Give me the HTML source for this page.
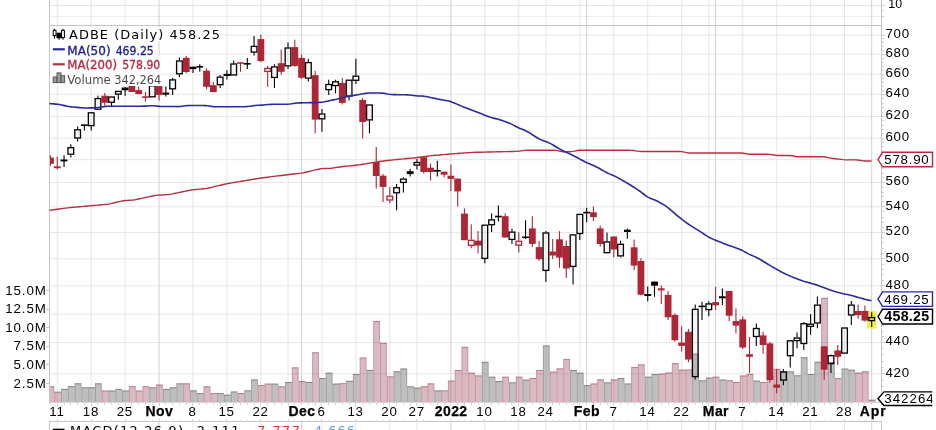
<!DOCTYPE html>
<html><head><meta charset="utf-8"><title>ADBE chart</title>
<style>html,body{margin:0;padding:0;background:#fff}svg{display:block;will-change:transform;opacity:0.999}</style></head>
<body><svg width="936" height="430" viewBox="0 0 936 430" font-family="'Liberation Sans', Arial, sans-serif">
<rect width="936" height="430" fill="#fff"/>
<g>
<line x1="49.5" x2="881.5" y1="5.5" y2="5.5" stroke="#e4e4e4"/>
<line x1="49.5" x2="881.5" y1="16.5" y2="16.5" stroke="#efefef"/>
<line x1="49.5" x2="881.5" y1="373.8" y2="373.8" stroke="#e6e6e6"/>
<line x1="49.5" x2="881.5" y1="342.6" y2="342.6" stroke="#e6e6e6"/>
<line x1="49.5" x2="881.5" y1="314.2" y2="314.2" stroke="#e6e6e6"/>
<line x1="49.5" x2="881.5" y1="285.9" y2="285.9" stroke="#e6e6e6"/>
<line x1="49.5" x2="881.5" y1="258.8" y2="258.8" stroke="#e6e6e6"/>
<line x1="49.5" x2="881.5" y1="232.6" y2="232.6" stroke="#e6e6e6"/>
<line x1="49.5" x2="881.5" y1="206.8" y2="206.8" stroke="#e6e6e6"/>
<line x1="49.5" x2="881.5" y1="182.5" y2="182.5" stroke="#e6e6e6"/>
<line x1="49.5" x2="881.5" y1="159.7" y2="159.7" stroke="#e6e6e6"/>
<line x1="49.5" x2="881.5" y1="138.2" y2="138.2" stroke="#e6e6e6"/>
<line x1="49.5" x2="881.5" y1="116.5" y2="116.5" stroke="#e6e6e6"/>
<line x1="49.5" x2="881.5" y1="94.3" y2="94.3" stroke="#e6e6e6"/>
<line x1="49.5" x2="881.5" y1="74.2" y2="74.2" stroke="#e6e6e6"/>
<line x1="49.5" x2="881.5" y1="54.2" y2="54.2" stroke="#e6e6e6"/>
<line x1="49.5" x2="881.5" y1="35.2" y2="35.2" stroke="#e6e6e6"/>
<line x1="57.25" x2="57.25" y1="0" y2="402.5" stroke="#e6e6e6"/>
<line x1="57.25" x2="57.25" y1="422" y2="430" stroke="#e6e6e6"/>
<line x1="91.19" x2="91.19" y1="0" y2="402.5" stroke="#e6e6e6"/>
<line x1="91.19" x2="91.19" y1="422" y2="430" stroke="#e6e6e6"/>
<line x1="125.12" x2="125.12" y1="0" y2="402.5" stroke="#e6e6e6"/>
<line x1="125.12" x2="125.12" y1="422" y2="430" stroke="#e6e6e6"/>
<line x1="192.99" x2="192.99" y1="0" y2="402.5" stroke="#e6e6e6"/>
<line x1="192.99" x2="192.99" y1="422" y2="430" stroke="#e6e6e6"/>
<line x1="226.93" x2="226.93" y1="0" y2="402.5" stroke="#e6e6e6"/>
<line x1="226.93" x2="226.93" y1="422" y2="430" stroke="#e6e6e6"/>
<line x1="260.86" x2="260.86" y1="0" y2="402.5" stroke="#e6e6e6"/>
<line x1="260.86" x2="260.86" y1="422" y2="430" stroke="#e6e6e6"/>
<line x1="288.01" x2="288.01" y1="0" y2="402.5" stroke="#e6e6e6"/>
<line x1="288.01" x2="288.01" y1="422" y2="430" stroke="#e6e6e6"/>
<line x1="321.94" x2="321.94" y1="0" y2="402.5" stroke="#e6e6e6"/>
<line x1="321.94" x2="321.94" y1="422" y2="430" stroke="#e6e6e6"/>
<line x1="355.88" x2="355.88" y1="0" y2="402.5" stroke="#e6e6e6"/>
<line x1="355.88" x2="355.88" y1="422" y2="430" stroke="#e6e6e6"/>
<line x1="389.81" x2="389.81" y1="0" y2="402.5" stroke="#e6e6e6"/>
<line x1="389.81" x2="389.81" y1="422" y2="430" stroke="#e6e6e6"/>
<line x1="416.96" x2="416.96" y1="0" y2="402.5" stroke="#e6e6e6"/>
<line x1="416.96" x2="416.96" y1="422" y2="430" stroke="#e6e6e6"/>
<line x1="484.83" x2="484.83" y1="0" y2="402.5" stroke="#e6e6e6"/>
<line x1="484.83" x2="484.83" y1="422" y2="430" stroke="#e6e6e6"/>
<line x1="518.77" x2="518.77" y1="0" y2="402.5" stroke="#e6e6e6"/>
<line x1="518.77" x2="518.77" y1="422" y2="430" stroke="#e6e6e6"/>
<line x1="545.91" x2="545.91" y1="0" y2="402.5" stroke="#e6e6e6"/>
<line x1="545.91" x2="545.91" y1="422" y2="430" stroke="#e6e6e6"/>
<line x1="579.85" x2="579.85" y1="0" y2="402.5" stroke="#e6e6e6"/>
<line x1="579.85" x2="579.85" y1="422" y2="430" stroke="#e6e6e6"/>
<line x1="613.78" x2="613.78" y1="0" y2="402.5" stroke="#e6e6e6"/>
<line x1="613.78" x2="613.78" y1="422" y2="430" stroke="#e6e6e6"/>
<line x1="647.72" x2="647.72" y1="0" y2="402.5" stroke="#e6e6e6"/>
<line x1="647.72" x2="647.72" y1="422" y2="430" stroke="#e6e6e6"/>
<line x1="681.65" x2="681.65" y1="0" y2="402.5" stroke="#e6e6e6"/>
<line x1="681.65" x2="681.65" y1="422" y2="430" stroke="#e6e6e6"/>
<line x1="708.8" x2="708.8" y1="0" y2="402.5" stroke="#e6e6e6"/>
<line x1="708.8" x2="708.8" y1="422" y2="430" stroke="#e6e6e6"/>
<line x1="742.74" x2="742.74" y1="0" y2="402.5" stroke="#e6e6e6"/>
<line x1="742.74" x2="742.74" y1="422" y2="430" stroke="#e6e6e6"/>
<line x1="776.67" x2="776.67" y1="0" y2="402.5" stroke="#e6e6e6"/>
<line x1="776.67" x2="776.67" y1="422" y2="430" stroke="#e6e6e6"/>
<line x1="810.61" x2="810.61" y1="0" y2="402.5" stroke="#e6e6e6"/>
<line x1="810.61" x2="810.61" y1="422" y2="430" stroke="#e6e6e6"/>
<line x1="844.54" x2="844.54" y1="0" y2="402.5" stroke="#e6e6e6"/>
<line x1="844.54" x2="844.54" y1="422" y2="430" stroke="#e6e6e6"/>
<line x1="159.06" x2="159.06" y1="0" y2="402.5" stroke="#d2d2d2"/>
<line x1="159.06" x2="159.06" y1="422" y2="430" stroke="#d2d2d2"/>
<line x1="301.58" x2="301.58" y1="0" y2="402.5" stroke="#d2d2d2"/>
<line x1="301.58" x2="301.58" y1="422" y2="430" stroke="#d2d2d2"/>
<line x1="450.9" x2="450.9" y1="0" y2="402.5" stroke="#d2d2d2"/>
<line x1="450.9" x2="450.9" y1="422" y2="430" stroke="#d2d2d2"/>
<line x1="586.64" x2="586.64" y1="0" y2="402.5" stroke="#d2d2d2"/>
<line x1="586.64" x2="586.64" y1="422" y2="430" stroke="#d2d2d2"/>
<line x1="715.59" x2="715.59" y1="0" y2="402.5" stroke="#d2d2d2"/>
<line x1="715.59" x2="715.59" y1="422" y2="430" stroke="#d2d2d2"/>
<line x1="871.69" x2="871.69" y1="0" y2="402.5" stroke="#d2d2d2"/>
<line x1="871.69" x2="871.69" y1="422" y2="430" stroke="#d2d2d2"/>
</g>
<g>
<rect x="50.00" y="386.20" width="4.25" height="16.00" fill="rgba(128,25,55,0.30)"/>
<path d="M50.00 386.70H54.25" fill="none" stroke="rgba(140,30,50,0.42)" stroke-width="1"/>
<path d="M53.75 387.20V391.70" fill="none" stroke="rgba(140,30,50,0.22)" stroke-width="1"/>
<rect x="54.25" y="391.70" width="6.79" height="10.50" fill="rgba(128,25,55,0.30)"/>
<path d="M54.25 392.20H61.04" fill="none" stroke="rgba(140,30,50,0.42)" stroke-width="1"/>
<path d="M54.75 402.2V392.70" fill="none" stroke="rgba(140,30,50,0.22)" stroke-width="1"/>
<rect x="61.04" y="388.90" width="6.79" height="13.30" fill="rgba(128,128,128,0.5)"/>
<path d="M61.04 389.40H67.82" fill="none" stroke="rgba(50,50,50,0.40)" stroke-width="1"/>
<path d="M61.54 402.2V389.90" fill="none" stroke="rgba(60,60,60,0.22)" stroke-width="1"/>
<rect x="67.82" y="386.20" width="6.79" height="16.00" fill="rgba(128,128,128,0.5)"/>
<path d="M67.82 386.70H74.61" fill="none" stroke="rgba(50,50,50,0.40)" stroke-width="1"/>
<path d="M68.32 402.2V387.20" fill="none" stroke="rgba(60,60,60,0.22)" stroke-width="1"/>
<rect x="74.61" y="383.30" width="6.79" height="18.90" fill="rgba(128,128,128,0.5)"/>
<path d="M74.61 383.80H81.40" fill="none" stroke="rgba(50,50,50,0.40)" stroke-width="1"/>
<path d="M75.11 402.2V384.30" fill="none" stroke="rgba(60,60,60,0.22)" stroke-width="1"/>
<path d="M80.90 384.30V387.30" fill="none" stroke="rgba(60,60,60,0.22)" stroke-width="1"/>
<rect x="81.40" y="387.30" width="6.79" height="14.90" fill="rgba(128,128,128,0.5)"/>
<path d="M81.40 387.80H88.19" fill="none" stroke="rgba(50,50,50,0.40)" stroke-width="1"/>
<path d="M81.90 402.2V388.30" fill="none" stroke="rgba(60,60,60,0.22)" stroke-width="1"/>
<rect x="88.19" y="387.30" width="6.79" height="14.90" fill="rgba(128,128,128,0.5)"/>
<path d="M88.19 387.80H94.97" fill="none" stroke="rgba(50,50,50,0.40)" stroke-width="1"/>
<path d="M88.69 402.2V388.30" fill="none" stroke="rgba(60,60,60,0.22)" stroke-width="1"/>
<rect x="94.97" y="383.30" width="6.79" height="18.90" fill="rgba(128,128,128,0.5)"/>
<path d="M94.97 383.80H101.76" fill="none" stroke="rgba(50,50,50,0.40)" stroke-width="1"/>
<path d="M95.47 402.2V384.30" fill="none" stroke="rgba(60,60,60,0.22)" stroke-width="1"/>
<path d="M101.26 384.30V390.50" fill="none" stroke="rgba(60,60,60,0.22)" stroke-width="1"/>
<rect x="101.76" y="390.50" width="6.79" height="11.70" fill="rgba(128,25,55,0.30)"/>
<path d="M101.76 391.00H108.55" fill="none" stroke="rgba(140,30,50,0.42)" stroke-width="1"/>
<path d="M102.26 402.2V391.50" fill="none" stroke="rgba(140,30,50,0.22)" stroke-width="1"/>
<rect x="108.55" y="390.50" width="6.79" height="11.70" fill="rgba(128,128,128,0.5)"/>
<path d="M108.55 391.00H115.33" fill="none" stroke="rgba(50,50,50,0.40)" stroke-width="1"/>
<path d="M109.05 402.2V391.50" fill="none" stroke="rgba(60,60,60,0.22)" stroke-width="1"/>
<rect x="115.33" y="388.90" width="6.79" height="13.30" fill="rgba(128,128,128,0.5)"/>
<path d="M115.33 389.40H122.12" fill="none" stroke="rgba(50,50,50,0.40)" stroke-width="1"/>
<path d="M115.83 402.2V389.90" fill="none" stroke="rgba(60,60,60,0.22)" stroke-width="1"/>
<path d="M121.62 389.90V390.50" fill="none" stroke="rgba(60,60,60,0.22)" stroke-width="1"/>
<rect x="122.12" y="390.50" width="6.79" height="11.70" fill="rgba(128,128,128,0.5)"/>
<path d="M122.12 391.00H128.91" fill="none" stroke="rgba(50,50,50,0.40)" stroke-width="1"/>
<path d="M122.62 402.2V391.50" fill="none" stroke="rgba(60,60,60,0.22)" stroke-width="1"/>
<rect x="128.91" y="386.20" width="6.79" height="16.00" fill="rgba(128,25,55,0.30)"/>
<path d="M128.91 386.70H135.69" fill="none" stroke="rgba(140,30,50,0.42)" stroke-width="1"/>
<path d="M129.41 402.2V387.20" fill="none" stroke="rgba(140,30,50,0.22)" stroke-width="1"/>
<path d="M135.19 387.20V390.50" fill="none" stroke="rgba(140,30,50,0.22)" stroke-width="1"/>
<rect x="135.69" y="390.50" width="6.79" height="11.70" fill="rgba(128,25,55,0.30)"/>
<path d="M135.69 391.00H142.48" fill="none" stroke="rgba(140,30,50,0.42)" stroke-width="1"/>
<path d="M136.19 402.2V391.50" fill="none" stroke="rgba(140,30,50,0.22)" stroke-width="1"/>
<rect x="142.48" y="386.20" width="6.79" height="16.00" fill="rgba(128,25,55,0.30)"/>
<path d="M142.48 386.70H149.27" fill="none" stroke="rgba(140,30,50,0.42)" stroke-width="1"/>
<path d="M142.98 402.2V387.20" fill="none" stroke="rgba(140,30,50,0.22)" stroke-width="1"/>
<path d="M148.77 387.20V387.30" fill="none" stroke="rgba(140,30,50,0.22)" stroke-width="1"/>
<rect x="149.27" y="387.30" width="6.79" height="14.90" fill="rgba(128,128,128,0.5)"/>
<path d="M149.27 387.80H156.06" fill="none" stroke="rgba(50,50,50,0.40)" stroke-width="1"/>
<path d="M149.77 402.2V388.30" fill="none" stroke="rgba(60,60,60,0.22)" stroke-width="1"/>
<rect x="156.06" y="384.60" width="6.79" height="17.60" fill="rgba(128,25,55,0.30)"/>
<path d="M156.06 385.10H162.84" fill="none" stroke="rgba(140,30,50,0.42)" stroke-width="1"/>
<path d="M156.56 402.2V385.60" fill="none" stroke="rgba(140,30,50,0.22)" stroke-width="1"/>
<path d="M162.34 385.60V388.90" fill="none" stroke="rgba(140,30,50,0.22)" stroke-width="1"/>
<rect x="162.84" y="388.90" width="6.79" height="13.30" fill="rgba(128,128,128,0.5)"/>
<path d="M162.84 389.40H169.63" fill="none" stroke="rgba(50,50,50,0.40)" stroke-width="1"/>
<path d="M163.34 402.2V389.90" fill="none" stroke="rgba(60,60,60,0.22)" stroke-width="1"/>
<rect x="169.63" y="387.30" width="6.79" height="14.90" fill="rgba(128,128,128,0.5)"/>
<path d="M169.63 387.80H176.42" fill="none" stroke="rgba(50,50,50,0.40)" stroke-width="1"/>
<path d="M170.13 402.2V388.30" fill="none" stroke="rgba(60,60,60,0.22)" stroke-width="1"/>
<rect x="176.42" y="383.30" width="6.79" height="18.90" fill="rgba(128,128,128,0.5)"/>
<path d="M176.42 383.80H183.20" fill="none" stroke="rgba(50,50,50,0.40)" stroke-width="1"/>
<path d="M176.92 402.2V384.30" fill="none" stroke="rgba(60,60,60,0.22)" stroke-width="1"/>
<rect x="183.20" y="383.30" width="6.79" height="18.90" fill="rgba(128,25,55,0.30)"/>
<path d="M183.20 383.80H189.99" fill="none" stroke="rgba(140,30,50,0.42)" stroke-width="1"/>
<path d="M183.70 402.2V384.30" fill="none" stroke="rgba(140,30,50,0.22)" stroke-width="1"/>
<path d="M189.49 384.30V390.40" fill="none" stroke="rgba(140,30,50,0.22)" stroke-width="1"/>
<rect x="189.99" y="390.40" width="6.79" height="11.80" fill="rgba(128,128,128,0.5)"/>
<path d="M189.99 390.90H196.78" fill="none" stroke="rgba(50,50,50,0.40)" stroke-width="1"/>
<path d="M190.49 402.2V391.40" fill="none" stroke="rgba(60,60,60,0.22)" stroke-width="1"/>
<path d="M196.28 391.40V393.10" fill="none" stroke="rgba(60,60,60,0.22)" stroke-width="1"/>
<rect x="196.78" y="393.10" width="6.79" height="9.10" fill="rgba(128,128,128,0.5)"/>
<path d="M196.78 393.60H203.56" fill="none" stroke="rgba(50,50,50,0.40)" stroke-width="1"/>
<path d="M197.28 402.2V394.10" fill="none" stroke="rgba(60,60,60,0.22)" stroke-width="1"/>
<rect x="203.56" y="386.30" width="6.79" height="15.90" fill="rgba(128,25,55,0.30)"/>
<path d="M203.56 386.80H210.35" fill="none" stroke="rgba(140,30,50,0.42)" stroke-width="1"/>
<path d="M204.06 402.2V387.30" fill="none" stroke="rgba(140,30,50,0.22)" stroke-width="1"/>
<path d="M209.85 387.30V393.10" fill="none" stroke="rgba(140,30,50,0.22)" stroke-width="1"/>
<rect x="210.35" y="393.10" width="6.79" height="9.10" fill="rgba(128,25,55,0.30)"/>
<path d="M210.35 393.60H217.14" fill="none" stroke="rgba(140,30,50,0.42)" stroke-width="1"/>
<path d="M210.85 402.2V394.10" fill="none" stroke="rgba(140,30,50,0.22)" stroke-width="1"/>
<rect x="217.14" y="393.10" width="6.79" height="9.10" fill="rgba(128,128,128,0.5)"/>
<path d="M217.14 393.60H223.93" fill="none" stroke="rgba(50,50,50,0.40)" stroke-width="1"/>
<path d="M217.64 402.2V394.10" fill="none" stroke="rgba(60,60,60,0.22)" stroke-width="1"/>
<path d="M223.43 394.10V394.70" fill="none" stroke="rgba(60,60,60,0.22)" stroke-width="1"/>
<rect x="223.93" y="394.70" width="6.79" height="7.50" fill="rgba(128,128,128,0.5)"/>
<path d="M223.93 395.20H230.71" fill="none" stroke="rgba(50,50,50,0.40)" stroke-width="1"/>
<path d="M224.43 402.2V395.70" fill="none" stroke="rgba(60,60,60,0.22)" stroke-width="1"/>
<rect x="230.71" y="391.50" width="6.79" height="10.70" fill="rgba(128,128,128,0.5)"/>
<path d="M230.71 392.00H237.50" fill="none" stroke="rgba(50,50,50,0.40)" stroke-width="1"/>
<path d="M231.21 402.2V392.50" fill="none" stroke="rgba(60,60,60,0.22)" stroke-width="1"/>
<path d="M237.00 392.50V393.10" fill="none" stroke="rgba(60,60,60,0.22)" stroke-width="1"/>
<rect x="237.50" y="393.10" width="6.79" height="9.10" fill="rgba(128,25,55,0.30)"/>
<path d="M237.50 393.60H244.29" fill="none" stroke="rgba(140,30,50,0.42)" stroke-width="1"/>
<path d="M238.00 402.2V394.10" fill="none" stroke="rgba(140,30,50,0.22)" stroke-width="1"/>
<rect x="244.29" y="390.40" width="6.79" height="11.80" fill="rgba(128,128,128,0.5)"/>
<path d="M244.29 390.90H251.07" fill="none" stroke="rgba(50,50,50,0.40)" stroke-width="1"/>
<path d="M244.79 402.2V391.40" fill="none" stroke="rgba(60,60,60,0.22)" stroke-width="1"/>
<rect x="251.07" y="379.40" width="6.79" height="22.80" fill="rgba(128,128,128,0.5)"/>
<path d="M251.07 379.90H257.86" fill="none" stroke="rgba(50,50,50,0.40)" stroke-width="1"/>
<path d="M251.57 402.2V380.40" fill="none" stroke="rgba(60,60,60,0.22)" stroke-width="1"/>
<path d="M257.36 380.40V385.10" fill="none" stroke="rgba(60,60,60,0.22)" stroke-width="1"/>
<rect x="257.86" y="385.10" width="6.79" height="17.10" fill="rgba(128,25,55,0.30)"/>
<path d="M257.86 385.60H264.65" fill="none" stroke="rgba(140,30,50,0.42)" stroke-width="1"/>
<path d="M258.36 402.2V386.10" fill="none" stroke="rgba(140,30,50,0.22)" stroke-width="1"/>
<rect x="264.65" y="383.60" width="6.79" height="18.60" fill="rgba(128,25,55,0.30)"/>
<path d="M264.65 384.10H271.43" fill="none" stroke="rgba(140,30,50,0.42)" stroke-width="1"/>
<path d="M265.15 402.2V384.60" fill="none" stroke="rgba(140,30,50,0.22)" stroke-width="1"/>
<rect x="271.43" y="383.60" width="6.79" height="18.60" fill="rgba(128,128,128,0.5)"/>
<path d="M271.43 384.10H278.22" fill="none" stroke="rgba(50,50,50,0.40)" stroke-width="1"/>
<path d="M271.93 402.2V384.60" fill="none" stroke="rgba(60,60,60,0.22)" stroke-width="1"/>
<path d="M277.72 384.60V386.30" fill="none" stroke="rgba(60,60,60,0.22)" stroke-width="1"/>
<rect x="278.22" y="386.30" width="6.79" height="15.90" fill="rgba(128,25,55,0.30)"/>
<path d="M278.22 386.80H285.01" fill="none" stroke="rgba(140,30,50,0.42)" stroke-width="1"/>
<path d="M278.72 402.2V387.30" fill="none" stroke="rgba(140,30,50,0.22)" stroke-width="1"/>
<rect x="285.01" y="382.00" width="6.79" height="20.20" fill="rgba(128,128,128,0.5)"/>
<path d="M285.01 382.50H291.80" fill="none" stroke="rgba(50,50,50,0.40)" stroke-width="1"/>
<path d="M285.51 402.2V383.00" fill="none" stroke="rgba(60,60,60,0.22)" stroke-width="1"/>
<rect x="291.79" y="367.40" width="6.79" height="34.80" fill="rgba(128,25,55,0.30)"/>
<path d="M291.79 367.90H298.58" fill="none" stroke="rgba(140,30,50,0.42)" stroke-width="1"/>
<path d="M292.29 402.2V368.40" fill="none" stroke="rgba(140,30,50,0.22)" stroke-width="1"/>
<path d="M298.08 368.40V381.00" fill="none" stroke="rgba(140,30,50,0.22)" stroke-width="1"/>
<rect x="298.58" y="381.00" width="6.79" height="21.20" fill="rgba(128,25,55,0.30)"/>
<path d="M298.58 381.50H305.37" fill="none" stroke="rgba(140,30,50,0.42)" stroke-width="1"/>
<path d="M299.08 402.2V382.00" fill="none" stroke="rgba(140,30,50,0.22)" stroke-width="1"/>
<rect x="305.37" y="382.00" width="6.79" height="20.20" fill="rgba(128,128,128,0.5)"/>
<path d="M305.37 382.50H312.16" fill="none" stroke="rgba(50,50,50,0.40)" stroke-width="1"/>
<path d="M305.87 402.2V383.00" fill="none" stroke="rgba(60,60,60,0.22)" stroke-width="1"/>
<rect x="312.16" y="352.30" width="6.79" height="49.90" fill="rgba(128,25,55,0.30)"/>
<path d="M312.16 352.80H318.94" fill="none" stroke="rgba(140,30,50,0.42)" stroke-width="1"/>
<path d="M312.66 402.2V353.30" fill="none" stroke="rgba(140,30,50,0.22)" stroke-width="1"/>
<path d="M318.44 353.30V378.00" fill="none" stroke="rgba(140,30,50,0.22)" stroke-width="1"/>
<rect x="318.94" y="378.00" width="6.79" height="24.20" fill="rgba(128,128,128,0.5)"/>
<path d="M318.94 378.50H325.73" fill="none" stroke="rgba(50,50,50,0.40)" stroke-width="1"/>
<path d="M319.44 402.2V379.00" fill="none" stroke="rgba(60,60,60,0.22)" stroke-width="1"/>
<rect x="325.73" y="372.70" width="6.79" height="29.50" fill="rgba(128,128,128,0.5)"/>
<path d="M325.73 373.20H332.52" fill="none" stroke="rgba(50,50,50,0.40)" stroke-width="1"/>
<path d="M326.23 402.2V373.70" fill="none" stroke="rgba(60,60,60,0.22)" stroke-width="1"/>
<path d="M332.02 373.70V383.60" fill="none" stroke="rgba(60,60,60,0.22)" stroke-width="1"/>
<rect x="332.52" y="383.60" width="6.79" height="18.60" fill="rgba(128,128,128,0.5)"/>
<path d="M332.52 384.10H339.30" fill="none" stroke="rgba(50,50,50,0.40)" stroke-width="1"/>
<path d="M333.02 402.2V384.60" fill="none" stroke="rgba(60,60,60,0.22)" stroke-width="1"/>
<rect x="339.30" y="383.20" width="6.79" height="19.00" fill="rgba(128,25,55,0.30)"/>
<path d="M339.30 383.70H346.09" fill="none" stroke="rgba(140,30,50,0.42)" stroke-width="1"/>
<path d="M339.80 402.2V384.20" fill="none" stroke="rgba(140,30,50,0.22)" stroke-width="1"/>
<rect x="346.09" y="380.80" width="6.79" height="21.40" fill="rgba(128,128,128,0.5)"/>
<path d="M346.09 381.30H352.88" fill="none" stroke="rgba(50,50,50,0.40)" stroke-width="1"/>
<path d="M346.59 402.2V381.80" fill="none" stroke="rgba(60,60,60,0.22)" stroke-width="1"/>
<rect x="352.88" y="374.00" width="6.79" height="28.20" fill="rgba(128,128,128,0.5)"/>
<path d="M352.88 374.50H359.66" fill="none" stroke="rgba(50,50,50,0.40)" stroke-width="1"/>
<path d="M353.38 402.2V375.00" fill="none" stroke="rgba(60,60,60,0.22)" stroke-width="1"/>
<rect x="359.67" y="357.50" width="6.79" height="44.70" fill="rgba(128,25,55,0.30)"/>
<path d="M359.67 358.00H366.45" fill="none" stroke="rgba(140,30,50,0.42)" stroke-width="1"/>
<path d="M360.17 402.2V358.50" fill="none" stroke="rgba(140,30,50,0.22)" stroke-width="1"/>
<path d="M365.95 358.50V369.90" fill="none" stroke="rgba(140,30,50,0.22)" stroke-width="1"/>
<rect x="366.45" y="369.90" width="6.79" height="32.30" fill="rgba(128,128,128,0.5)"/>
<path d="M366.45 370.40H373.24" fill="none" stroke="rgba(50,50,50,0.40)" stroke-width="1"/>
<path d="M366.95 402.2V370.90" fill="none" stroke="rgba(60,60,60,0.22)" stroke-width="1"/>
<rect x="373.24" y="321.10" width="6.79" height="81.10" fill="rgba(128,25,55,0.30)"/>
<path d="M373.24 321.60H380.03" fill="none" stroke="rgba(140,30,50,0.42)" stroke-width="1"/>
<path d="M373.74 402.2V322.10" fill="none" stroke="rgba(140,30,50,0.22)" stroke-width="1"/>
<path d="M379.53 322.10V342.80" fill="none" stroke="rgba(140,30,50,0.22)" stroke-width="1"/>
<rect x="380.03" y="342.80" width="6.79" height="59.40" fill="rgba(128,25,55,0.30)"/>
<path d="M380.03 343.30H386.81" fill="none" stroke="rgba(140,30,50,0.42)" stroke-width="1"/>
<path d="M380.53 402.2V343.80" fill="none" stroke="rgba(140,30,50,0.22)" stroke-width="1"/>
<path d="M386.31 343.80V376.40" fill="none" stroke="rgba(140,30,50,0.22)" stroke-width="1"/>
<rect x="386.81" y="376.40" width="6.79" height="25.80" fill="rgba(128,25,55,0.30)"/>
<path d="M386.81 376.90H393.60" fill="none" stroke="rgba(140,30,50,0.42)" stroke-width="1"/>
<path d="M387.31 402.2V377.40" fill="none" stroke="rgba(140,30,50,0.22)" stroke-width="1"/>
<rect x="393.60" y="371.20" width="6.79" height="31.00" fill="rgba(128,128,128,0.5)"/>
<path d="M393.60 371.70H400.39" fill="none" stroke="rgba(50,50,50,0.40)" stroke-width="1"/>
<path d="M394.10 402.2V372.20" fill="none" stroke="rgba(60,60,60,0.22)" stroke-width="1"/>
<rect x="400.39" y="368.50" width="6.79" height="33.70" fill="rgba(128,128,128,0.5)"/>
<path d="M400.39 369.00H407.17" fill="none" stroke="rgba(50,50,50,0.40)" stroke-width="1"/>
<path d="M400.89 402.2V369.50" fill="none" stroke="rgba(60,60,60,0.22)" stroke-width="1"/>
<path d="M406.67 369.50V386.30" fill="none" stroke="rgba(60,60,60,0.22)" stroke-width="1"/>
<rect x="407.17" y="386.30" width="6.79" height="15.90" fill="rgba(128,128,128,0.5)"/>
<path d="M407.17 386.80H413.96" fill="none" stroke="rgba(50,50,50,0.40)" stroke-width="1"/>
<path d="M407.67 402.2V387.30" fill="none" stroke="rgba(60,60,60,0.22)" stroke-width="1"/>
<path d="M413.46 387.30V387.60" fill="none" stroke="rgba(60,60,60,0.22)" stroke-width="1"/>
<rect x="413.96" y="387.60" width="6.79" height="14.60" fill="rgba(128,128,128,0.5)"/>
<path d="M413.96 388.10H420.75" fill="none" stroke="rgba(50,50,50,0.40)" stroke-width="1"/>
<path d="M414.46 402.2V388.60" fill="none" stroke="rgba(60,60,60,0.22)" stroke-width="1"/>
<rect x="420.75" y="386.30" width="6.79" height="15.90" fill="rgba(128,25,55,0.30)"/>
<path d="M420.75 386.80H427.53" fill="none" stroke="rgba(140,30,50,0.42)" stroke-width="1"/>
<path d="M421.25 402.2V387.30" fill="none" stroke="rgba(140,30,50,0.22)" stroke-width="1"/>
<rect x="427.53" y="383.40" width="6.79" height="18.80" fill="rgba(128,25,55,0.30)"/>
<path d="M427.53 383.90H434.32" fill="none" stroke="rgba(140,30,50,0.42)" stroke-width="1"/>
<path d="M428.03 402.2V384.40" fill="none" stroke="rgba(140,30,50,0.22)" stroke-width="1"/>
<path d="M433.82 384.40V390.40" fill="none" stroke="rgba(140,30,50,0.22)" stroke-width="1"/>
<rect x="434.32" y="390.40" width="6.79" height="11.80" fill="rgba(128,128,128,0.5)"/>
<path d="M434.32 390.90H441.11" fill="none" stroke="rgba(50,50,50,0.40)" stroke-width="1"/>
<path d="M434.82 402.2V391.40" fill="none" stroke="rgba(60,60,60,0.22)" stroke-width="1"/>
<rect x="441.11" y="390.40" width="6.79" height="11.80" fill="rgba(128,25,55,0.30)"/>
<path d="M441.11 390.90H447.90" fill="none" stroke="rgba(140,30,50,0.42)" stroke-width="1"/>
<path d="M441.61 402.2V391.40" fill="none" stroke="rgba(140,30,50,0.22)" stroke-width="1"/>
<rect x="447.90" y="380.60" width="6.79" height="21.60" fill="rgba(128,25,55,0.30)"/>
<path d="M447.90 381.10H454.68" fill="none" stroke="rgba(140,30,50,0.42)" stroke-width="1"/>
<path d="M448.40 402.2V381.60" fill="none" stroke="rgba(140,30,50,0.22)" stroke-width="1"/>
<rect x="454.68" y="370.00" width="6.79" height="32.20" fill="rgba(128,25,55,0.30)"/>
<path d="M454.68 370.50H461.47" fill="none" stroke="rgba(140,30,50,0.42)" stroke-width="1"/>
<path d="M455.18 402.2V371.00" fill="none" stroke="rgba(140,30,50,0.22)" stroke-width="1"/>
<rect x="461.47" y="346.90" width="6.79" height="55.30" fill="rgba(128,25,55,0.30)"/>
<path d="M461.47 347.40H468.26" fill="none" stroke="rgba(140,30,50,0.42)" stroke-width="1"/>
<path d="M461.97 402.2V347.90" fill="none" stroke="rgba(140,30,50,0.22)" stroke-width="1"/>
<path d="M467.76 347.90V372.70" fill="none" stroke="rgba(140,30,50,0.22)" stroke-width="1"/>
<rect x="468.26" y="372.70" width="6.79" height="29.50" fill="rgba(128,25,55,0.30)"/>
<path d="M468.26 373.20H475.04" fill="none" stroke="rgba(140,30,50,0.42)" stroke-width="1"/>
<path d="M468.76 402.2V373.70" fill="none" stroke="rgba(140,30,50,0.22)" stroke-width="1"/>
<path d="M474.54 373.70V375.40" fill="none" stroke="rgba(140,30,50,0.22)" stroke-width="1"/>
<rect x="475.04" y="375.40" width="6.79" height="26.80" fill="rgba(128,25,55,0.30)"/>
<path d="M475.04 375.90H481.83" fill="none" stroke="rgba(140,30,50,0.42)" stroke-width="1"/>
<path d="M475.54 402.2V376.40" fill="none" stroke="rgba(140,30,50,0.22)" stroke-width="1"/>
<rect x="481.83" y="361.80" width="6.79" height="40.40" fill="rgba(128,128,128,0.5)"/>
<path d="M481.83 362.30H488.62" fill="none" stroke="rgba(50,50,50,0.40)" stroke-width="1"/>
<path d="M482.33 402.2V362.80" fill="none" stroke="rgba(60,60,60,0.22)" stroke-width="1"/>
<path d="M488.12 362.80V376.70" fill="none" stroke="rgba(60,60,60,0.22)" stroke-width="1"/>
<rect x="488.62" y="376.70" width="6.79" height="25.50" fill="rgba(128,128,128,0.5)"/>
<path d="M488.62 377.20H495.40" fill="none" stroke="rgba(50,50,50,0.40)" stroke-width="1"/>
<path d="M489.12 402.2V377.70" fill="none" stroke="rgba(60,60,60,0.22)" stroke-width="1"/>
<path d="M494.90 377.70V381.00" fill="none" stroke="rgba(60,60,60,0.22)" stroke-width="1"/>
<rect x="495.40" y="381.00" width="6.79" height="21.20" fill="rgba(128,128,128,0.5)"/>
<path d="M495.40 381.50H502.19" fill="none" stroke="rgba(50,50,50,0.40)" stroke-width="1"/>
<path d="M495.90 402.2V382.00" fill="none" stroke="rgba(60,60,60,0.22)" stroke-width="1"/>
<rect x="502.19" y="376.70" width="6.79" height="25.50" fill="rgba(128,25,55,0.30)"/>
<path d="M502.19 377.20H508.98" fill="none" stroke="rgba(140,30,50,0.42)" stroke-width="1"/>
<path d="M502.69 402.2V377.70" fill="none" stroke="rgba(140,30,50,0.22)" stroke-width="1"/>
<path d="M508.48 377.70V382.30" fill="none" stroke="rgba(140,30,50,0.22)" stroke-width="1"/>
<rect x="508.98" y="382.30" width="6.79" height="19.90" fill="rgba(128,128,128,0.5)"/>
<path d="M508.98 382.80H515.77" fill="none" stroke="rgba(50,50,50,0.40)" stroke-width="1"/>
<path d="M509.48 402.2V383.30" fill="none" stroke="rgba(60,60,60,0.22)" stroke-width="1"/>
<rect x="515.77" y="376.70" width="6.79" height="25.50" fill="rgba(128,25,55,0.30)"/>
<path d="M515.77 377.20H522.55" fill="none" stroke="rgba(140,30,50,0.42)" stroke-width="1"/>
<path d="M516.27 402.2V377.70" fill="none" stroke="rgba(140,30,50,0.22)" stroke-width="1"/>
<path d="M522.05 377.70V379.60" fill="none" stroke="rgba(140,30,50,0.22)" stroke-width="1"/>
<rect x="522.55" y="379.60" width="6.79" height="22.60" fill="rgba(128,128,128,0.5)"/>
<path d="M522.55 380.10H529.34" fill="none" stroke="rgba(50,50,50,0.40)" stroke-width="1"/>
<path d="M523.05 402.2V380.60" fill="none" stroke="rgba(60,60,60,0.22)" stroke-width="1"/>
<rect x="529.34" y="378.00" width="6.79" height="24.20" fill="rgba(128,25,55,0.30)"/>
<path d="M529.34 378.50H536.13" fill="none" stroke="rgba(140,30,50,0.42)" stroke-width="1"/>
<path d="M529.84 402.2V379.00" fill="none" stroke="rgba(140,30,50,0.22)" stroke-width="1"/>
<rect x="536.13" y="370.00" width="6.79" height="32.20" fill="rgba(128,25,55,0.30)"/>
<path d="M536.13 370.50H542.91" fill="none" stroke="rgba(140,30,50,0.42)" stroke-width="1"/>
<path d="M536.63 402.2V371.00" fill="none" stroke="rgba(140,30,50,0.22)" stroke-width="1"/>
<rect x="542.91" y="345.40" width="6.79" height="56.80" fill="rgba(128,128,128,0.5)"/>
<path d="M542.91 345.90H549.70" fill="none" stroke="rgba(50,50,50,0.40)" stroke-width="1"/>
<path d="M543.41 402.2V346.40" fill="none" stroke="rgba(60,60,60,0.22)" stroke-width="1"/>
<path d="M549.20 346.40V371.60" fill="none" stroke="rgba(60,60,60,0.22)" stroke-width="1"/>
<rect x="549.70" y="371.60" width="6.79" height="30.60" fill="rgba(128,25,55,0.30)"/>
<path d="M549.70 372.10H556.49" fill="none" stroke="rgba(140,30,50,0.42)" stroke-width="1"/>
<path d="M550.20 402.2V372.60" fill="none" stroke="rgba(140,30,50,0.22)" stroke-width="1"/>
<rect x="556.49" y="368.40" width="6.79" height="33.80" fill="rgba(128,25,55,0.30)"/>
<path d="M556.49 368.90H563.28" fill="none" stroke="rgba(140,30,50,0.42)" stroke-width="1"/>
<path d="M556.99 402.2V369.40" fill="none" stroke="rgba(140,30,50,0.22)" stroke-width="1"/>
<rect x="563.27" y="359.10" width="6.79" height="43.10" fill="rgba(128,25,55,0.30)"/>
<path d="M563.27 359.60H570.06" fill="none" stroke="rgba(140,30,50,0.42)" stroke-width="1"/>
<path d="M563.77 402.2V360.10" fill="none" stroke="rgba(140,30,50,0.22)" stroke-width="1"/>
<path d="M569.56 360.10V370.00" fill="none" stroke="rgba(140,30,50,0.22)" stroke-width="1"/>
<rect x="570.06" y="370.00" width="6.79" height="32.20" fill="rgba(128,128,128,0.5)"/>
<path d="M570.06 370.50H576.85" fill="none" stroke="rgba(50,50,50,0.40)" stroke-width="1"/>
<path d="M570.56 402.2V371.00" fill="none" stroke="rgba(60,60,60,0.22)" stroke-width="1"/>
<path d="M576.35 371.00V372.70" fill="none" stroke="rgba(60,60,60,0.22)" stroke-width="1"/>
<rect x="576.85" y="372.70" width="6.79" height="29.50" fill="rgba(128,128,128,0.5)"/>
<path d="M576.85 373.20H583.64" fill="none" stroke="rgba(50,50,50,0.40)" stroke-width="1"/>
<path d="M577.35 402.2V373.70" fill="none" stroke="rgba(60,60,60,0.22)" stroke-width="1"/>
<path d="M583.14 373.70V385.10" fill="none" stroke="rgba(60,60,60,0.22)" stroke-width="1"/>
<rect x="583.64" y="385.10" width="6.79" height="17.10" fill="rgba(128,128,128,0.5)"/>
<path d="M583.64 385.60H590.42" fill="none" stroke="rgba(50,50,50,0.40)" stroke-width="1"/>
<path d="M584.14 402.2V386.10" fill="none" stroke="rgba(60,60,60,0.22)" stroke-width="1"/>
<rect x="590.42" y="383.50" width="6.79" height="18.70" fill="rgba(128,25,55,0.30)"/>
<path d="M590.42 384.00H597.21" fill="none" stroke="rgba(140,30,50,0.42)" stroke-width="1"/>
<path d="M590.92 402.2V384.50" fill="none" stroke="rgba(140,30,50,0.22)" stroke-width="1"/>
<rect x="597.21" y="379.40" width="6.79" height="22.80" fill="rgba(128,25,55,0.30)"/>
<path d="M597.21 379.90H604.00" fill="none" stroke="rgba(140,30,50,0.42)" stroke-width="1"/>
<path d="M597.71 402.2V380.40" fill="none" stroke="rgba(140,30,50,0.22)" stroke-width="1"/>
<path d="M603.50 380.40V382.30" fill="none" stroke="rgba(140,30,50,0.22)" stroke-width="1"/>
<rect x="604.00" y="382.30" width="6.79" height="19.90" fill="rgba(128,128,128,0.5)"/>
<path d="M604.00 382.80H610.78" fill="none" stroke="rgba(50,50,50,0.40)" stroke-width="1"/>
<path d="M604.50 402.2V383.30" fill="none" stroke="rgba(60,60,60,0.22)" stroke-width="1"/>
<rect x="610.78" y="379.40" width="6.79" height="22.80" fill="rgba(128,25,55,0.30)"/>
<path d="M610.78 379.90H617.57" fill="none" stroke="rgba(140,30,50,0.42)" stroke-width="1"/>
<path d="M611.28 402.2V380.40" fill="none" stroke="rgba(140,30,50,0.22)" stroke-width="1"/>
<rect x="617.57" y="378.00" width="6.79" height="24.20" fill="rgba(128,128,128,0.5)"/>
<path d="M617.57 378.50H624.36" fill="none" stroke="rgba(50,50,50,0.40)" stroke-width="1"/>
<path d="M618.07 402.2V379.00" fill="none" stroke="rgba(60,60,60,0.22)" stroke-width="1"/>
<path d="M623.86 379.00V383.50" fill="none" stroke="rgba(60,60,60,0.22)" stroke-width="1"/>
<rect x="624.36" y="383.50" width="6.79" height="18.70" fill="rgba(128,128,128,0.5)"/>
<path d="M624.36 384.00H631.14" fill="none" stroke="rgba(50,50,50,0.40)" stroke-width="1"/>
<path d="M624.86 402.2V384.50" fill="none" stroke="rgba(60,60,60,0.22)" stroke-width="1"/>
<rect x="631.14" y="367.10" width="6.79" height="35.10" fill="rgba(128,25,55,0.30)"/>
<path d="M631.14 367.60H637.93" fill="none" stroke="rgba(140,30,50,0.42)" stroke-width="1"/>
<path d="M631.64 402.2V368.10" fill="none" stroke="rgba(140,30,50,0.22)" stroke-width="1"/>
<rect x="637.93" y="364.40" width="6.79" height="37.80" fill="rgba(128,25,55,0.30)"/>
<path d="M637.93 364.90H644.72" fill="none" stroke="rgba(140,30,50,0.42)" stroke-width="1"/>
<path d="M638.43 402.2V365.40" fill="none" stroke="rgba(140,30,50,0.22)" stroke-width="1"/>
<path d="M644.22 365.40V376.70" fill="none" stroke="rgba(140,30,50,0.22)" stroke-width="1"/>
<rect x="644.72" y="376.70" width="6.79" height="25.50" fill="rgba(128,128,128,0.5)"/>
<path d="M644.72 377.20H651.51" fill="none" stroke="rgba(50,50,50,0.40)" stroke-width="1"/>
<path d="M645.22 402.2V377.70" fill="none" stroke="rgba(60,60,60,0.22)" stroke-width="1"/>
<rect x="651.51" y="374.00" width="6.79" height="28.20" fill="rgba(128,128,128,0.5)"/>
<path d="M651.51 374.50H658.29" fill="none" stroke="rgba(50,50,50,0.40)" stroke-width="1"/>
<path d="M652.01 402.2V375.00" fill="none" stroke="rgba(60,60,60,0.22)" stroke-width="1"/>
<rect x="658.29" y="373.60" width="6.79" height="28.60" fill="rgba(128,25,55,0.30)"/>
<path d="M658.29 374.10H665.08" fill="none" stroke="rgba(140,30,50,0.42)" stroke-width="1"/>
<path d="M658.79 402.2V374.60" fill="none" stroke="rgba(140,30,50,0.22)" stroke-width="1"/>
<rect x="665.08" y="372.50" width="6.79" height="29.70" fill="rgba(128,25,55,0.30)"/>
<path d="M665.08 373.00H671.87" fill="none" stroke="rgba(140,30,50,0.42)" stroke-width="1"/>
<path d="M665.58 402.2V373.50" fill="none" stroke="rgba(140,30,50,0.22)" stroke-width="1"/>
<rect x="671.87" y="363.10" width="6.79" height="39.10" fill="rgba(128,25,55,0.30)"/>
<path d="M671.87 363.60H678.65" fill="none" stroke="rgba(140,30,50,0.42)" stroke-width="1"/>
<path d="M672.37 402.2V364.10" fill="none" stroke="rgba(140,30,50,0.22)" stroke-width="1"/>
<path d="M678.15 364.10V369.70" fill="none" stroke="rgba(140,30,50,0.22)" stroke-width="1"/>
<rect x="678.65" y="369.70" width="6.79" height="32.50" fill="rgba(128,25,55,0.30)"/>
<path d="M678.65 370.20H685.44" fill="none" stroke="rgba(140,30,50,0.42)" stroke-width="1"/>
<path d="M679.15 402.2V370.70" fill="none" stroke="rgba(140,30,50,0.22)" stroke-width="1"/>
<rect x="685.44" y="369.50" width="6.79" height="32.70" fill="rgba(128,25,55,0.30)"/>
<path d="M685.44 370.00H692.23" fill="none" stroke="rgba(140,30,50,0.42)" stroke-width="1"/>
<path d="M685.94 402.2V370.50" fill="none" stroke="rgba(140,30,50,0.22)" stroke-width="1"/>
<rect x="692.23" y="353.60" width="6.79" height="48.60" fill="rgba(128,128,128,0.5)"/>
<path d="M692.23 354.10H699.01" fill="none" stroke="rgba(50,50,50,0.40)" stroke-width="1"/>
<path d="M692.73 402.2V354.60" fill="none" stroke="rgba(60,60,60,0.22)" stroke-width="1"/>
<path d="M698.51 354.60V380.30" fill="none" stroke="rgba(60,60,60,0.22)" stroke-width="1"/>
<rect x="699.01" y="380.30" width="6.79" height="21.90" fill="rgba(128,128,128,0.5)"/>
<path d="M699.01 380.80H705.80" fill="none" stroke="rgba(50,50,50,0.40)" stroke-width="1"/>
<path d="M699.51 402.2V381.30" fill="none" stroke="rgba(60,60,60,0.22)" stroke-width="1"/>
<rect x="705.80" y="377.60" width="6.79" height="24.60" fill="rgba(128,128,128,0.5)"/>
<path d="M705.80 378.10H712.59" fill="none" stroke="rgba(50,50,50,0.40)" stroke-width="1"/>
<path d="M706.30 402.2V378.60" fill="none" stroke="rgba(60,60,60,0.22)" stroke-width="1"/>
<rect x="712.59" y="376.70" width="6.79" height="25.50" fill="rgba(128,25,55,0.30)"/>
<path d="M712.59 377.20H719.38" fill="none" stroke="rgba(140,30,50,0.42)" stroke-width="1"/>
<path d="M713.09 402.2V377.70" fill="none" stroke="rgba(140,30,50,0.22)" stroke-width="1"/>
<path d="M718.88 377.70V379.50" fill="none" stroke="rgba(140,30,50,0.22)" stroke-width="1"/>
<rect x="719.38" y="379.50" width="6.79" height="22.70" fill="rgba(128,128,128,0.5)"/>
<path d="M719.38 380.00H726.16" fill="none" stroke="rgba(50,50,50,0.40)" stroke-width="1"/>
<path d="M719.88 402.2V380.50" fill="none" stroke="rgba(60,60,60,0.22)" stroke-width="1"/>
<rect x="726.16" y="380.30" width="6.79" height="21.90" fill="rgba(128,25,55,0.30)"/>
<path d="M726.16 380.80H732.95" fill="none" stroke="rgba(140,30,50,0.42)" stroke-width="1"/>
<path d="M726.66 402.2V381.30" fill="none" stroke="rgba(140,30,50,0.22)" stroke-width="1"/>
<path d="M732.45 381.30V382.00" fill="none" stroke="rgba(140,30,50,0.22)" stroke-width="1"/>
<rect x="732.95" y="382.00" width="6.79" height="20.20" fill="rgba(128,25,55,0.30)"/>
<path d="M732.95 382.50H739.74" fill="none" stroke="rgba(140,30,50,0.42)" stroke-width="1"/>
<path d="M733.45 402.2V383.00" fill="none" stroke="rgba(140,30,50,0.22)" stroke-width="1"/>
<rect x="739.74" y="375.50" width="6.79" height="26.70" fill="rgba(128,25,55,0.30)"/>
<path d="M739.74 376.00H746.52" fill="none" stroke="rgba(140,30,50,0.42)" stroke-width="1"/>
<path d="M740.24 402.2V376.50" fill="none" stroke="rgba(140,30,50,0.22)" stroke-width="1"/>
<rect x="746.52" y="373.90" width="6.79" height="28.30" fill="rgba(128,25,55,0.30)"/>
<path d="M746.52 374.40H753.31" fill="none" stroke="rgba(140,30,50,0.42)" stroke-width="1"/>
<path d="M747.02 402.2V374.90" fill="none" stroke="rgba(140,30,50,0.22)" stroke-width="1"/>
<path d="M752.81 374.90V380.60" fill="none" stroke="rgba(140,30,50,0.22)" stroke-width="1"/>
<rect x="753.31" y="380.60" width="6.79" height="21.60" fill="rgba(128,128,128,0.5)"/>
<path d="M753.31 381.10H760.10" fill="none" stroke="rgba(50,50,50,0.40)" stroke-width="1"/>
<path d="M753.81 402.2V381.60" fill="none" stroke="rgba(60,60,60,0.22)" stroke-width="1"/>
<path d="M759.60 381.60V382.00" fill="none" stroke="rgba(60,60,60,0.22)" stroke-width="1"/>
<rect x="760.10" y="382.00" width="6.79" height="20.20" fill="rgba(128,25,55,0.30)"/>
<path d="M760.10 382.50H766.88" fill="none" stroke="rgba(140,30,50,0.42)" stroke-width="1"/>
<path d="M760.60 402.2V383.00" fill="none" stroke="rgba(140,30,50,0.22)" stroke-width="1"/>
<rect x="766.88" y="376.00" width="6.79" height="26.20" fill="rgba(128,25,55,0.30)"/>
<path d="M766.88 376.50H773.67" fill="none" stroke="rgba(140,30,50,0.42)" stroke-width="1"/>
<path d="M767.38 402.2V377.00" fill="none" stroke="rgba(140,30,50,0.22)" stroke-width="1"/>
<rect x="773.67" y="368.90" width="6.79" height="33.30" fill="rgba(128,25,55,0.30)"/>
<path d="M773.67 369.40H780.46" fill="none" stroke="rgba(140,30,50,0.42)" stroke-width="1"/>
<path d="M774.17 402.2V369.90" fill="none" stroke="rgba(140,30,50,0.22)" stroke-width="1"/>
<path d="M779.96 369.90V371.80" fill="none" stroke="rgba(140,30,50,0.22)" stroke-width="1"/>
<rect x="780.46" y="371.80" width="6.79" height="30.40" fill="rgba(128,128,128,0.5)"/>
<path d="M780.46 372.30H787.25" fill="none" stroke="rgba(50,50,50,0.40)" stroke-width="1"/>
<path d="M780.96 402.2V372.80" fill="none" stroke="rgba(60,60,60,0.22)" stroke-width="1"/>
<rect x="787.25" y="371.30" width="6.79" height="30.90" fill="rgba(128,128,128,0.5)"/>
<path d="M787.25 371.80H794.03" fill="none" stroke="rgba(50,50,50,0.40)" stroke-width="1"/>
<path d="M787.75 402.2V372.30" fill="none" stroke="rgba(60,60,60,0.22)" stroke-width="1"/>
<path d="M793.53 372.30V375.30" fill="none" stroke="rgba(60,60,60,0.22)" stroke-width="1"/>
<rect x="794.03" y="375.30" width="6.79" height="26.90" fill="rgba(128,128,128,0.5)"/>
<path d="M794.03 375.80H800.82" fill="none" stroke="rgba(50,50,50,0.40)" stroke-width="1"/>
<path d="M794.53 402.2V376.30" fill="none" stroke="rgba(60,60,60,0.22)" stroke-width="1"/>
<rect x="800.82" y="357.30" width="6.79" height="44.90" fill="rgba(128,128,128,0.5)"/>
<path d="M800.82 357.80H807.61" fill="none" stroke="rgba(50,50,50,0.40)" stroke-width="1"/>
<path d="M801.32 402.2V358.30" fill="none" stroke="rgba(60,60,60,0.22)" stroke-width="1"/>
<path d="M807.11 358.30V374.00" fill="none" stroke="rgba(60,60,60,0.22)" stroke-width="1"/>
<rect x="807.61" y="374.00" width="6.79" height="28.20" fill="rgba(128,128,128,0.5)"/>
<path d="M807.61 374.50H814.39" fill="none" stroke="rgba(50,50,50,0.40)" stroke-width="1"/>
<path d="M808.11 402.2V375.00" fill="none" stroke="rgba(60,60,60,0.22)" stroke-width="1"/>
<rect x="814.39" y="361.70" width="6.79" height="40.50" fill="rgba(128,128,128,0.5)"/>
<path d="M814.39 362.20H821.18" fill="none" stroke="rgba(50,50,50,0.40)" stroke-width="1"/>
<path d="M814.89 402.2V362.70" fill="none" stroke="rgba(60,60,60,0.22)" stroke-width="1"/>
<rect x="821.18" y="297.80" width="6.79" height="104.40" fill="rgba(128,25,55,0.30)"/>
<path d="M821.18 298.30H827.97" fill="none" stroke="rgba(140,30,50,0.42)" stroke-width="1"/>
<path d="M821.68 402.2V298.80" fill="none" stroke="rgba(140,30,50,0.22)" stroke-width="1"/>
<path d="M827.47 298.80V362.00" fill="none" stroke="rgba(140,30,50,0.22)" stroke-width="1"/>
<rect x="827.97" y="362.00" width="6.79" height="40.20" fill="rgba(128,128,128,0.5)"/>
<path d="M827.97 362.50H834.75" fill="none" stroke="rgba(50,50,50,0.40)" stroke-width="1"/>
<path d="M828.47 402.2V363.00" fill="none" stroke="rgba(60,60,60,0.22)" stroke-width="1"/>
<path d="M834.25 363.00V378.20" fill="none" stroke="rgba(60,60,60,0.22)" stroke-width="1"/>
<rect x="834.75" y="378.20" width="6.79" height="24.00" fill="rgba(128,25,55,0.30)"/>
<path d="M834.75 378.70H841.54" fill="none" stroke="rgba(140,30,50,0.42)" stroke-width="1"/>
<path d="M835.25 402.2V379.20" fill="none" stroke="rgba(140,30,50,0.22)" stroke-width="1"/>
<rect x="841.54" y="368.60" width="6.79" height="33.60" fill="rgba(128,128,128,0.5)"/>
<path d="M841.54 369.10H848.33" fill="none" stroke="rgba(50,50,50,0.40)" stroke-width="1"/>
<path d="M842.04 402.2V369.60" fill="none" stroke="rgba(60,60,60,0.22)" stroke-width="1"/>
<path d="M847.83 369.60V369.70" fill="none" stroke="rgba(60,60,60,0.22)" stroke-width="1"/>
<rect x="848.33" y="369.70" width="6.79" height="32.50" fill="rgba(128,128,128,0.5)"/>
<path d="M848.33 370.20H855.12" fill="none" stroke="rgba(50,50,50,0.40)" stroke-width="1"/>
<path d="M848.83 402.2V370.70" fill="none" stroke="rgba(60,60,60,0.22)" stroke-width="1"/>
<path d="M854.62 370.70V372.60" fill="none" stroke="rgba(60,60,60,0.22)" stroke-width="1"/>
<rect x="855.12" y="372.60" width="6.79" height="29.60" fill="rgba(128,25,55,0.30)"/>
<path d="M855.12 373.10H861.90" fill="none" stroke="rgba(140,30,50,0.42)" stroke-width="1"/>
<path d="M855.62 402.2V373.60" fill="none" stroke="rgba(140,30,50,0.22)" stroke-width="1"/>
<rect x="861.90" y="371.30" width="6.79" height="30.90" fill="rgba(128,25,55,0.30)"/>
<path d="M861.90 371.80H868.69" fill="none" stroke="rgba(140,30,50,0.42)" stroke-width="1"/>
<path d="M862.40 402.2V372.30" fill="none" stroke="rgba(140,30,50,0.22)" stroke-width="1"/>
<path d="M868.19 372.30V399.70" fill="none" stroke="rgba(140,30,50,0.22)" stroke-width="1"/>
<rect x="868.69" y="399.70" width="6.79" height="2.50" fill="rgba(128,128,128,0.5)"/>
<path d="M868.69 400.20H875.48" fill="none" stroke="rgba(50,50,50,0.40)" stroke-width="1"/>
<path d="M869.19 402.2V400.70" fill="none" stroke="rgba(60,60,60,0.22)" stroke-width="1"/>
<path d="M874.98 400.70V402.20" fill="none" stroke="rgba(60,60,60,0.22)" stroke-width="1"/>
</g>
<g shape-rendering="crispEdges" stroke="#c6c6c6" fill="none">
<line x1="49.5" x2="49.5" y1="0" y2="402.5"/>
<line x1="881.5" x2="881.5" y1="0" y2="404.5"/>
<line x1="49.5" x2="881.5" y1="25.5" y2="25.5"/>
<line x1="49.5" x2="881.5" y1="402.5" y2="402.5" stroke="#d8d8d8"/>
<path d="M49.5 430V421.5H881.5V430"/>
</g>
<rect x="867" y="311" width="9.5" height="17.5" fill="#f3f04a"/>
<g>
<clipPath id="cp"><rect x="50" y="26" width="831" height="377"/></clipPath>
<g clip-path="url(#cp)">
<line x1="50.46" x2="50.46" y1="155.2" y2="165.8" stroke="#ad2636" stroke-width="1.1"/>
<rect x="47.07" y="157.60" width="6.79" height="6.20" fill="#ad2636"/>
<line x1="57.25" x2="57.25" y1="156.6" y2="169.6" stroke="#ad2636" stroke-width="1.1"/>
<rect x="53.86" y="166.30" width="6.79" height="1.90" fill="#ad2636"/>
<line x1="64.04" x2="64.04" y1="155.2" y2="166.9" stroke="#000" stroke-width="1.1"/>
<rect x="60.64" y="159.50" width="6.79" height="1.90" fill="#000"/>
<line x1="70.82" x2="70.82" y1="144.3" y2="147.2" stroke="#000" stroke-width="1.1"/>
<line x1="70.82" x2="70.82" y1="154.7" y2="157.5" stroke="#000" stroke-width="1.1"/>
<rect x="67.98" y="147.70" width="5.69" height="6.50" fill="rgba(0,0,0,0.03)" stroke="#000" stroke-width="1.3"/>
<line x1="77.61" x2="77.61" y1="126.5" y2="129.3" stroke="#000" stroke-width="1.1"/>
<line x1="77.61" x2="77.61" y1="138.5" y2="141.4" stroke="#000" stroke-width="1.1"/>
<rect x="74.77" y="129.80" width="5.69" height="8.20" fill="rgba(0,0,0,0.03)" stroke="#000" stroke-width="1.3"/>
<line x1="84.4" x2="84.4" y1="124.4" y2="130.4" stroke="#000" stroke-width="1.1"/>
<rect x="81.00" y="124.40" width="6.79" height="1.60" fill="#000"/>
<line x1="91.19" x2="91.19" y1="126.1" y2="130.4" stroke="#000" stroke-width="1.1"/>
<rect x="88.34" y="112.80" width="5.69" height="12.80" fill="rgba(0,0,0,0.03)" stroke="#000" stroke-width="1.3"/>
<line x1="97.97" x2="97.97" y1="95.7" y2="98.1" stroke="#000" stroke-width="1.1"/>
<rect x="95.13" y="98.60" width="5.69" height="10.60" fill="rgba(0,0,0,0.03)" stroke="#000" stroke-width="1.3"/>
<line x1="104.76" x2="104.76" y1="93.0" y2="105.6" stroke="#ad2636" stroke-width="1.1"/>
<rect x="101.37" y="95.70" width="6.79" height="7.00" fill="#ad2636"/>
<line x1="111.55" x2="111.55" y1="102.7" y2="106.4" stroke="#000" stroke-width="1.1"/>
<rect x="108.70" y="97.00" width="5.69" height="5.20" fill="rgba(0,0,0,0.03)" stroke="#000" stroke-width="1.3"/>
<line x1="118.33" x2="118.33" y1="94.6" y2="99.7" stroke="#000" stroke-width="1.1"/>
<rect x="115.49" y="91.40" width="5.69" height="2.70" fill="rgba(0,0,0,0.03)" stroke="#000" stroke-width="1.3"/>
<line x1="125.12" x2="125.12" y1="87.0" y2="87.7" stroke="#000" stroke-width="1.1"/>
<line x1="125.12" x2="125.12" y1="90.1" y2="95.7" stroke="#000" stroke-width="1.1"/>
<rect x="122.28" y="88.20" width="5.69" height="1.40" fill="rgba(0,0,0,0.03)" stroke="#000" stroke-width="1.3"/>
<line x1="131.91" x2="131.91" y1="85.5" y2="92.0" stroke="#ad2636" stroke-width="1.1"/>
<rect x="128.51" y="85.50" width="6.79" height="6.50" fill="#ad2636"/>
<line x1="138.69" x2="138.69" y1="86.6" y2="94.1" stroke="#ad2636" stroke-width="1.1"/>
<rect x="135.30" y="90.10" width="6.79" height="4.00" fill="#ad2636"/>
<line x1="145.48" x2="145.48" y1="92.0" y2="101.7" stroke="#ad2636" stroke-width="1.1"/>
<rect x="142.09" y="96.30" width="6.79" height="1.60" fill="#ad2636"/>
<rect x="149.42" y="85.80" width="5.69" height="11.00" fill="rgba(0,0,0,0.03)" stroke="#000" stroke-width="1.3"/>
<line x1="159.06" x2="159.06" y1="83.7" y2="100.5" stroke="#ad2636" stroke-width="1.1"/>
<rect x="155.66" y="86.10" width="6.79" height="8.80" fill="#ad2636"/>
<line x1="165.84" x2="165.84" y1="86.6" y2="96.5" stroke="#000" stroke-width="1.1"/>
<rect x="162.45" y="92.60" width="6.79" height="2.00" fill="#000"/>
<line x1="172.63" x2="172.63" y1="78.0" y2="79.4" stroke="#000" stroke-width="1.1"/>
<line x1="172.63" x2="172.63" y1="89.3" y2="94.9" stroke="#000" stroke-width="1.1"/>
<rect x="169.79" y="79.90" width="5.69" height="8.90" fill="rgba(0,0,0,0.03)" stroke="#000" stroke-width="1.3"/>
<line x1="179.42" x2="179.42" y1="57.5" y2="60.5" stroke="#000" stroke-width="1.1"/>
<line x1="179.42" x2="179.42" y1="74.3" y2="77.2" stroke="#000" stroke-width="1.1"/>
<rect x="176.57" y="61.00" width="5.69" height="12.80" fill="rgba(0,0,0,0.03)" stroke="#000" stroke-width="1.3"/>
<line x1="186.2" x2="186.2" y1="56.1" y2="73.2" stroke="#ad2636" stroke-width="1.1"/>
<rect x="182.81" y="57.80" width="6.79" height="14.20" fill="#ad2636"/>
<line x1="192.99" x2="192.99" y1="66.7" y2="73.1" stroke="#000" stroke-width="1.1"/>
<rect x="189.60" y="66.70" width="6.79" height="2.40" fill="#000"/>
<line x1="199.78" x2="199.78" y1="64.3" y2="71.5" stroke="#000" stroke-width="1.1"/>
<rect x="196.38" y="66.00" width="6.79" height="1.60" fill="#000"/>
<line x1="206.56" x2="206.56" y1="68.3" y2="89.2" stroke="#ad2636" stroke-width="1.1"/>
<rect x="203.17" y="70.70" width="6.79" height="16.10" fill="#ad2636"/>
<line x1="213.35" x2="213.35" y1="82.0" y2="92.1" stroke="#ad2636" stroke-width="1.1"/>
<rect x="209.96" y="85.20" width="6.79" height="6.90" fill="#ad2636"/>
<line x1="220.14" x2="220.14" y1="75.0" y2="76.7" stroke="#000" stroke-width="1.1"/>
<line x1="220.14" x2="220.14" y1="85.2" y2="87.9" stroke="#000" stroke-width="1.1"/>
<rect x="217.29" y="77.20" width="5.69" height="7.50" fill="rgba(0,0,0,0.03)" stroke="#000" stroke-width="1.3"/>
<line x1="226.93" x2="226.93" y1="70.2" y2="79.5" stroke="#000" stroke-width="1.1"/>
<rect x="223.53" y="73.90" width="6.79" height="2.10" fill="#000"/>
<line x1="233.71" x2="233.71" y1="60.6" y2="63.5" stroke="#000" stroke-width="1.1"/>
<rect x="230.87" y="64.00" width="5.69" height="11.00" fill="rgba(0,0,0,0.03)" stroke="#000" stroke-width="1.3"/>
<line x1="240.5" x2="240.5" y1="62.2" y2="71.8" stroke="#ad2636" stroke-width="1.1"/>
<rect x="237.11" y="62.20" width="6.79" height="1.60" fill="#ad2636"/>
<line x1="247.29" x2="247.29" y1="57.9" y2="69.1" stroke="#000" stroke-width="1.1"/>
<rect x="243.89" y="63.00" width="6.79" height="1.60" fill="#000"/>
<line x1="254.07" x2="254.07" y1="35.9" y2="45.9" stroke="#000" stroke-width="1.1"/>
<line x1="254.07" x2="254.07" y1="52.6" y2="55.5" stroke="#000" stroke-width="1.1"/>
<rect x="251.23" y="46.40" width="5.69" height="5.70" fill="rgba(0,0,0,0.03)" stroke="#000" stroke-width="1.3"/>
<line x1="260.86" x2="260.86" y1="34.6" y2="62.2" stroke="#ad2636" stroke-width="1.1"/>
<rect x="257.47" y="39.10" width="6.79" height="22.00" fill="#ad2636"/>
<line x1="267.65" x2="267.65" y1="65.9" y2="67.9" stroke="#ad2636" stroke-width="1.1"/>
<line x1="267.65" x2="267.65" y1="71.9" y2="86.8" stroke="#ad2636" stroke-width="1.1"/>
<rect x="264.80" y="68.40" width="5.69" height="3.00" fill="rgba(0,0,0,0.03)" stroke="#ad2636" stroke-width="1.3"/>
<line x1="274.43" x2="274.43" y1="64.3" y2="66.4" stroke="#000" stroke-width="1.1"/>
<line x1="274.43" x2="274.43" y1="77.9" y2="87.9" stroke="#000" stroke-width="1.1"/>
<rect x="271.59" y="66.90" width="5.69" height="10.50" fill="rgba(0,0,0,0.03)" stroke="#000" stroke-width="1.3"/>
<line x1="281.22" x2="281.22" y1="49.4" y2="74.7" stroke="#ad2636" stroke-width="1.1"/>
<rect x="277.83" y="63.20" width="6.79" height="8.60" fill="#ad2636"/>
<line x1="288.01" x2="288.01" y1="42.6" y2="47.5" stroke="#000" stroke-width="1.1"/>
<line x1="288.01" x2="288.01" y1="66.4" y2="69.1" stroke="#000" stroke-width="1.1"/>
<rect x="285.16" y="48.00" width="5.69" height="17.90" fill="rgba(0,0,0,0.03)" stroke="#000" stroke-width="1.3"/>
<line x1="294.79" x2="294.79" y1="39.8" y2="66.7" stroke="#ad2636" stroke-width="1.1"/>
<rect x="291.40" y="47.10" width="6.79" height="18.80" fill="#ad2636"/>
<line x1="301.58" x2="301.58" y1="54.7" y2="78.7" stroke="#ad2636" stroke-width="1.1"/>
<rect x="298.19" y="57.90" width="6.79" height="19.90" fill="#ad2636"/>
<line x1="308.37" x2="308.37" y1="58.9" y2="62.1" stroke="#000" stroke-width="1.1"/>
<line x1="308.37" x2="308.37" y1="78.6" y2="81.4" stroke="#000" stroke-width="1.1"/>
<rect x="305.53" y="62.60" width="5.69" height="15.50" fill="rgba(0,0,0,0.03)" stroke="#000" stroke-width="1.3"/>
<line x1="315.16" x2="315.16" y1="71.0" y2="133.3" stroke="#ad2636" stroke-width="1.1"/>
<rect x="311.76" y="75.20" width="6.79" height="44.40" fill="#ad2636"/>
<line x1="321.94" x2="321.94" y1="109.0" y2="113.5" stroke="#000" stroke-width="1.1"/>
<line x1="321.94" x2="321.94" y1="119.3" y2="131.7" stroke="#000" stroke-width="1.1"/>
<rect x="319.10" y="114.00" width="5.69" height="4.80" fill="rgba(0,0,0,0.03)" stroke="#000" stroke-width="1.3"/>
<line x1="328.73" x2="328.73" y1="79.7" y2="84.0" stroke="#000" stroke-width="1.1"/>
<line x1="328.73" x2="328.73" y1="90.1" y2="94.9" stroke="#000" stroke-width="1.1"/>
<rect x="325.89" y="84.50" width="5.69" height="5.10" fill="rgba(0,0,0,0.03)" stroke="#000" stroke-width="1.3"/>
<line x1="335.52" x2="335.52" y1="79.7" y2="81.3" stroke="#000" stroke-width="1.1"/>
<line x1="335.52" x2="335.52" y1="86.1" y2="93.3" stroke="#000" stroke-width="1.1"/>
<rect x="332.67" y="81.80" width="5.69" height="3.80" fill="rgba(0,0,0,0.03)" stroke="#000" stroke-width="1.3"/>
<line x1="342.3" x2="342.3" y1="78.1" y2="104.5" stroke="#ad2636" stroke-width="1.1"/>
<rect x="338.91" y="82.90" width="6.79" height="20.00" fill="#ad2636"/>
<line x1="349.09" x2="349.09" y1="96.5" y2="100.5" stroke="#000" stroke-width="1.1"/>
<rect x="346.25" y="80.20" width="5.69" height="15.80" fill="rgba(0,0,0,0.03)" stroke="#000" stroke-width="1.3"/>
<line x1="355.88" x2="355.88" y1="58.8" y2="75.7" stroke="#000" stroke-width="1.1"/>
<line x1="355.88" x2="355.88" y1="80.8" y2="84.0" stroke="#000" stroke-width="1.1"/>
<rect x="353.03" y="76.20" width="5.69" height="4.10" fill="rgba(0,0,0,0.03)" stroke="#000" stroke-width="1.3"/>
<line x1="362.67" x2="362.67" y1="98.1" y2="138.6" stroke="#ad2636" stroke-width="1.1"/>
<rect x="359.27" y="100.00" width="6.79" height="22.00" fill="#ad2636"/>
<line x1="369.45" x2="369.45" y1="120.4" y2="133.3" stroke="#000" stroke-width="1.1"/>
<rect x="366.61" y="105.00" width="5.69" height="14.90" fill="rgba(0,0,0,0.03)" stroke="#000" stroke-width="1.3"/>
<line x1="376.24" x2="376.24" y1="146.9" y2="188.5" stroke="#ad2636" stroke-width="1.1"/>
<rect x="372.85" y="162.00" width="6.79" height="14.00" fill="#ad2636"/>
<line x1="383.03" x2="383.03" y1="174.0" y2="202.1" stroke="#ad2636" stroke-width="1.1"/>
<rect x="379.63" y="175.70" width="6.79" height="11.20" fill="#ad2636"/>
<line x1="389.81" x2="389.81" y1="186.9" y2="195.7" stroke="#ad2636" stroke-width="1.1"/>
<line x1="389.81" x2="389.81" y1="200.5" y2="203.3" stroke="#ad2636" stroke-width="1.1"/>
<rect x="386.97" y="196.20" width="5.69" height="3.80" fill="rgba(0,0,0,0.03)" stroke="#ad2636" stroke-width="1.3"/>
<line x1="396.6" x2="396.6" y1="184.0" y2="187.2" stroke="#000" stroke-width="1.1"/>
<line x1="396.6" x2="396.6" y1="193.3" y2="210.2" stroke="#000" stroke-width="1.1"/>
<rect x="393.76" y="187.70" width="5.69" height="5.10" fill="rgba(0,0,0,0.03)" stroke="#000" stroke-width="1.3"/>
<line x1="403.39" x2="403.39" y1="177.3" y2="178.6" stroke="#000" stroke-width="1.1"/>
<line x1="403.39" x2="403.39" y1="182.9" y2="192.5" stroke="#000" stroke-width="1.1"/>
<rect x="400.54" y="179.10" width="5.69" height="3.30" fill="rgba(0,0,0,0.03)" stroke="#000" stroke-width="1.3"/>
<line x1="410.17" x2="410.17" y1="168.9" y2="176.5" stroke="#000" stroke-width="1.1"/>
<rect x="406.78" y="171.20" width="6.79" height="2.90" fill="#000"/>
<line x1="416.96" x2="416.96" y1="159.1" y2="162.0" stroke="#000" stroke-width="1.1"/>
<line x1="416.96" x2="416.96" y1="165.6" y2="169.5" stroke="#000" stroke-width="1.1"/>
<rect x="414.12" y="162.50" width="5.69" height="2.60" fill="rgba(0,0,0,0.03)" stroke="#000" stroke-width="1.3"/>
<line x1="423.75" x2="423.75" y1="157.2" y2="173.7" stroke="#ad2636" stroke-width="1.1"/>
<rect x="420.35" y="157.20" width="6.79" height="14.80" fill="#ad2636"/>
<line x1="430.53" x2="430.53" y1="163.6" y2="180.5" stroke="#ad2636" stroke-width="1.1"/>
<rect x="427.14" y="167.70" width="6.79" height="4.30" fill="#ad2636"/>
<line x1="437.32" x2="437.32" y1="160.7" y2="176.5" stroke="#000" stroke-width="1.1"/>
<rect x="433.93" y="170.00" width="6.79" height="1.60" fill="#000"/>
<line x1="444.11" x2="444.11" y1="171.7" y2="177.3" stroke="#ad2636" stroke-width="1.1"/>
<rect x="440.72" y="171.70" width="6.79" height="3.00" fill="#ad2636"/>
<line x1="450.9" x2="450.9" y1="164.8" y2="190.9" stroke="#ad2636" stroke-width="1.1"/>
<rect x="447.50" y="175.70" width="6.79" height="3.20" fill="#ad2636"/>
<line x1="457.68" x2="457.68" y1="178.6" y2="206.4" stroke="#ad2636" stroke-width="1.1"/>
<rect x="454.29" y="178.60" width="6.79" height="12.80" fill="#ad2636"/>
<line x1="464.47" x2="464.47" y1="208.4" y2="240.2" stroke="#ad2636" stroke-width="1.1"/>
<rect x="461.08" y="213.60" width="6.79" height="26.60" fill="#ad2636"/>
<line x1="471.26" x2="471.26" y1="224.2" y2="239.8" stroke="#ad2636" stroke-width="1.1"/>
<line x1="471.26" x2="471.26" y1="245.9" y2="248.3" stroke="#ad2636" stroke-width="1.1"/>
<rect x="468.41" y="240.30" width="5.69" height="5.10" fill="rgba(0,0,0,0.03)" stroke="#ad2636" stroke-width="1.3"/>
<line x1="478.04" x2="478.04" y1="231.1" y2="253.6" stroke="#ad2636" stroke-width="1.1"/>
<rect x="474.65" y="240.70" width="6.79" height="4.80" fill="#ad2636"/>
<line x1="484.83" x2="484.83" y1="258.9" y2="263.2" stroke="#000" stroke-width="1.1"/>
<rect x="481.99" y="225.20" width="5.69" height="33.20" fill="rgba(0,0,0,0.03)" stroke="#000" stroke-width="1.3"/>
<line x1="491.62" x2="491.62" y1="213.4" y2="219.4" stroke="#000" stroke-width="1.1"/>
<line x1="491.62" x2="491.62" y1="225.2" y2="231.9" stroke="#000" stroke-width="1.1"/>
<rect x="488.77" y="219.90" width="5.69" height="4.80" fill="rgba(0,0,0,0.03)" stroke="#000" stroke-width="1.3"/>
<line x1="498.4" x2="498.4" y1="205.4" y2="221.5" stroke="#000" stroke-width="1.1"/>
<rect x="495.01" y="215.70" width="6.79" height="1.60" fill="#000"/>
<line x1="505.19" x2="505.19" y1="213.4" y2="237.5" stroke="#ad2636" stroke-width="1.1"/>
<rect x="501.80" y="216.20" width="6.79" height="21.30" fill="#ad2636"/>
<line x1="511.98" x2="511.98" y1="228.7" y2="231.6" stroke="#000" stroke-width="1.1"/>
<line x1="511.98" x2="511.98" y1="239.9" y2="243.9" stroke="#000" stroke-width="1.1"/>
<rect x="509.14" y="232.10" width="5.69" height="7.30" fill="rgba(0,0,0,0.03)" stroke="#000" stroke-width="1.3"/>
<line x1="518.77" x2="518.77" y1="232.2" y2="240.8" stroke="#ad2636" stroke-width="1.1"/>
<line x1="518.77" x2="518.77" y1="245.7" y2="252.4" stroke="#ad2636" stroke-width="1.1"/>
<rect x="515.92" y="241.30" width="5.69" height="3.90" fill="rgba(0,0,0,0.03)" stroke="#ad2636" stroke-width="1.3"/>
<line x1="525.55" x2="525.55" y1="220.3" y2="239.1" stroke="#000" stroke-width="1.1"/>
<rect x="522.16" y="236.50" width="6.79" height="1.60" fill="#000"/>
<line x1="532.34" x2="532.34" y1="216.2" y2="247.1" stroke="#ad2636" stroke-width="1.1"/>
<rect x="528.95" y="228.40" width="6.79" height="15.50" fill="#ad2636"/>
<line x1="539.13" x2="539.13" y1="240.7" y2="260.8" stroke="#ad2636" stroke-width="1.1"/>
<rect x="535.73" y="247.10" width="6.79" height="12.10" fill="#ad2636"/>
<line x1="545.91" x2="545.91" y1="231.1" y2="232.5" stroke="#000" stroke-width="1.1"/>
<line x1="545.91" x2="545.91" y1="270.9" y2="282.1" stroke="#000" stroke-width="1.1"/>
<rect x="543.07" y="233.00" width="5.69" height="37.40" fill="rgba(0,0,0,0.03)" stroke="#000" stroke-width="1.3"/>
<line x1="552.7" x2="552.7" y1="239.0" y2="259.0" stroke="#ad2636" stroke-width="1.1"/>
<rect x="549.31" y="251.60" width="6.79" height="3.90" fill="#ad2636"/>
<line x1="559.49" x2="559.49" y1="231.2" y2="267.7" stroke="#ad2636" stroke-width="1.1"/>
<rect x="556.09" y="239.30" width="6.79" height="18.30" fill="#ad2636"/>
<line x1="566.27" x2="566.27" y1="240.5" y2="278.1" stroke="#ad2636" stroke-width="1.1"/>
<rect x="562.88" y="246.00" width="6.79" height="22.50" fill="#ad2636"/>
<line x1="573.06" x2="573.06" y1="266.9" y2="284.5" stroke="#000" stroke-width="1.1"/>
<rect x="570.22" y="234.90" width="5.69" height="31.50" fill="rgba(0,0,0,0.03)" stroke="#000" stroke-width="1.3"/>
<line x1="579.85" x2="579.85" y1="234.0" y2="240.0" stroke="#000" stroke-width="1.1"/>
<rect x="577.01" y="214.40" width="5.69" height="19.10" fill="rgba(0,0,0,0.03)" stroke="#000" stroke-width="1.3"/>
<line x1="586.64" x2="586.64" y1="207.8" y2="222.3" stroke="#000" stroke-width="1.1"/>
<rect x="583.24" y="211.80" width="6.79" height="1.60" fill="#000"/>
<line x1="593.42" x2="593.42" y1="206.6" y2="221.0" stroke="#ad2636" stroke-width="1.1"/>
<rect x="590.03" y="212.30" width="6.79" height="4.80" fill="#ad2636"/>
<line x1="600.21" x2="600.21" y1="225.5" y2="246.8" stroke="#ad2636" stroke-width="1.1"/>
<rect x="596.82" y="228.40" width="6.79" height="15.60" fill="#ad2636"/>
<line x1="607.0" x2="607.0" y1="232.5" y2="241.4" stroke="#000" stroke-width="1.1"/>
<rect x="604.15" y="241.90" width="5.69" height="10.80" fill="rgba(0,0,0,0.03)" stroke="#000" stroke-width="1.3"/>
<line x1="613.78" x2="613.78" y1="236.5" y2="257.6" stroke="#ad2636" stroke-width="1.1"/>
<rect x="610.39" y="236.50" width="6.79" height="13.00" fill="#ad2636"/>
<line x1="620.57" x2="620.57" y1="240.8" y2="243.8" stroke="#000" stroke-width="1.1"/>
<line x1="620.57" x2="620.57" y1="256.4" y2="257.6" stroke="#000" stroke-width="1.1"/>
<rect x="617.73" y="244.30" width="5.69" height="11.60" fill="rgba(0,0,0,0.03)" stroke="#000" stroke-width="1.3"/>
<line x1="627.36" x2="627.36" y1="228.4" y2="238.7" stroke="#000" stroke-width="1.1"/>
<rect x="623.96" y="229.70" width="6.79" height="2.30" fill="#000"/>
<line x1="634.14" x2="634.14" y1="239.4" y2="270.1" stroke="#ad2636" stroke-width="1.1"/>
<rect x="630.75" y="247.30" width="6.79" height="18.30" fill="#ad2636"/>
<line x1="640.93" x2="640.93" y1="258.2" y2="295.5" stroke="#ad2636" stroke-width="1.1"/>
<rect x="637.54" y="261.00" width="6.79" height="33.70" fill="#ad2636"/>
<line x1="647.72" x2="647.72" y1="286.6" y2="301.3" stroke="#000" stroke-width="1.1"/>
<rect x="644.33" y="294.00" width="6.79" height="2.00" fill="#000"/>
<line x1="654.51" x2="654.51" y1="281.6" y2="296.8" stroke="#000" stroke-width="1.1"/>
<rect x="651.11" y="281.60" width="6.79" height="4.10" fill="#000"/>
<line x1="661.29" x2="661.29" y1="285.3" y2="304.0" stroke="#ad2636" stroke-width="1.1"/>
<rect x="657.90" y="288.30" width="6.79" height="2.00" fill="#ad2636"/>
<line x1="668.08" x2="668.08" y1="290.9" y2="320.0" stroke="#ad2636" stroke-width="1.1"/>
<rect x="664.69" y="294.90" width="6.79" height="22.40" fill="#ad2636"/>
<line x1="674.87" x2="674.87" y1="313.6" y2="341.8" stroke="#ad2636" stroke-width="1.1"/>
<rect x="671.47" y="314.90" width="6.79" height="25.30" fill="#ad2636"/>
<line x1="681.65" x2="681.65" y1="326.2" y2="351.5" stroke="#ad2636" stroke-width="1.1"/>
<rect x="678.26" y="342.60" width="6.79" height="3.30" fill="#ad2636"/>
<line x1="688.44" x2="688.44" y1="329.0" y2="362.2" stroke="#ad2636" stroke-width="1.1"/>
<rect x="685.05" y="331.80" width="6.79" height="27.70" fill="#ad2636"/>
<line x1="695.23" x2="695.23" y1="304.5" y2="308.8" stroke="#000" stroke-width="1.1"/>
<line x1="695.23" x2="695.23" y1="377.1" y2="379.5" stroke="#000" stroke-width="1.1"/>
<rect x="692.38" y="309.30" width="5.69" height="67.30" fill="rgba(0,0,0,0.03)" stroke="#000" stroke-width="1.3"/>
<line x1="702.01" x2="702.01" y1="301.8" y2="320.0" stroke="#000" stroke-width="1.1"/>
<rect x="698.62" y="305.60" width="6.79" height="1.60" fill="#000"/>
<line x1="708.8" x2="708.8" y1="301.3" y2="303.4" stroke="#000" stroke-width="1.1"/>
<line x1="708.8" x2="708.8" y1="310.1" y2="316.2" stroke="#000" stroke-width="1.1"/>
<rect x="705.96" y="303.90" width="5.69" height="5.70" fill="rgba(0,0,0,0.03)" stroke="#000" stroke-width="1.3"/>
<line x1="715.59" x2="715.59" y1="286.8" y2="310.1" stroke="#ad2636" stroke-width="1.1"/>
<rect x="712.20" y="302.10" width="6.79" height="3.20" fill="#ad2636"/>
<line x1="722.38" x2="722.38" y1="288.4" y2="305.0" stroke="#000" stroke-width="1.1"/>
<rect x="718.98" y="296.30" width="6.79" height="2.00" fill="#000"/>
<line x1="729.16" x2="729.16" y1="290.9" y2="321.3" stroke="#ad2636" stroke-width="1.1"/>
<rect x="725.77" y="290.90" width="6.79" height="24.80" fill="#ad2636"/>
<line x1="735.95" x2="735.95" y1="308.5" y2="333.6" stroke="#ad2636" stroke-width="1.1"/>
<rect x="732.56" y="321.00" width="6.79" height="4.60" fill="#ad2636"/>
<line x1="742.74" x2="742.74" y1="316.5" y2="349.0" stroke="#ad2636" stroke-width="1.1"/>
<rect x="739.34" y="319.40" width="6.79" height="28.10" fill="#ad2636"/>
<line x1="749.52" x2="749.52" y1="337.0" y2="373.1" stroke="#ad2636" stroke-width="1.1"/>
<rect x="746.13" y="354.20" width="6.79" height="2.60" fill="#ad2636"/>
<line x1="756.31" x2="756.31" y1="323.6" y2="328.0" stroke="#000" stroke-width="1.1"/>
<line x1="756.31" x2="756.31" y1="337.0" y2="345.9" stroke="#000" stroke-width="1.1"/>
<rect x="753.47" y="328.50" width="5.69" height="8.00" fill="rgba(0,0,0,0.03)" stroke="#000" stroke-width="1.3"/>
<line x1="763.1" x2="763.1" y1="331.7" y2="353.8" stroke="#ad2636" stroke-width="1.1"/>
<rect x="759.70" y="335.40" width="6.79" height="9.60" fill="#ad2636"/>
<line x1="769.88" x2="769.88" y1="342.0" y2="382.4" stroke="#ad2636" stroke-width="1.1"/>
<rect x="766.49" y="343.40" width="6.79" height="36.60" fill="#ad2636"/>
<line x1="776.67" x2="776.67" y1="369.0" y2="393.3" stroke="#ad2636" stroke-width="1.1"/>
<rect x="773.28" y="384.50" width="6.79" height="3.20" fill="#ad2636"/>
<line x1="783.46" x2="783.46" y1="369.1" y2="371.4" stroke="#000" stroke-width="1.1"/>
<line x1="783.46" x2="783.46" y1="380.6" y2="385.2" stroke="#000" stroke-width="1.1"/>
<rect x="780.62" y="371.90" width="5.69" height="8.20" fill="rgba(0,0,0,0.03)" stroke="#000" stroke-width="1.3"/>
<line x1="790.25" x2="790.25" y1="356.2" y2="367.5" stroke="#000" stroke-width="1.1"/>
<rect x="787.40" y="340.80" width="5.69" height="14.90" fill="rgba(0,0,0,0.03)" stroke="#000" stroke-width="1.3"/>
<line x1="797.03" x2="797.03" y1="332.5" y2="337.5" stroke="#000" stroke-width="1.1"/>
<line x1="797.03" x2="797.03" y1="341.1" y2="348.3" stroke="#000" stroke-width="1.1"/>
<rect x="794.19" y="338.00" width="5.69" height="2.60" fill="rgba(0,0,0,0.03)" stroke="#000" stroke-width="1.3"/>
<line x1="803.82" x2="803.82" y1="322.0" y2="323.2" stroke="#000" stroke-width="1.1"/>
<line x1="803.82" x2="803.82" y1="344.0" y2="350.0" stroke="#000" stroke-width="1.1"/>
<rect x="800.98" y="323.70" width="5.69" height="19.80" fill="rgba(0,0,0,0.03)" stroke="#000" stroke-width="1.3"/>
<line x1="810.61" x2="810.61" y1="313.9" y2="323.7" stroke="#000" stroke-width="1.1"/>
<line x1="810.61" x2="810.61" y1="326.9" y2="334.7" stroke="#000" stroke-width="1.1"/>
<rect x="807.76" y="324.20" width="5.69" height="2.20" fill="rgba(0,0,0,0.03)" stroke="#000" stroke-width="1.3"/>
<line x1="817.39" x2="817.39" y1="296.6" y2="304.6" stroke="#000" stroke-width="1.1"/>
<line x1="817.39" x2="817.39" y1="323.5" y2="328.3" stroke="#000" stroke-width="1.1"/>
<rect x="814.55" y="305.10" width="5.69" height="17.90" fill="rgba(0,0,0,0.03)" stroke="#000" stroke-width="1.3"/>
<line x1="824.18" x2="824.18" y1="346.3" y2="379.8" stroke="#ad2636" stroke-width="1.1"/>
<rect x="820.79" y="346.30" width="6.79" height="23.40" fill="#ad2636"/>
<line x1="830.97" x2="830.97" y1="354.4" y2="355.2" stroke="#000" stroke-width="1.1"/>
<line x1="830.97" x2="830.97" y1="364.1" y2="372.9" stroke="#000" stroke-width="1.1"/>
<rect x="828.12" y="355.70" width="5.69" height="7.90" fill="rgba(0,0,0,0.03)" stroke="#000" stroke-width="1.3"/>
<line x1="837.75" x2="837.75" y1="345.0" y2="364.9" stroke="#ad2636" stroke-width="1.1"/>
<rect x="834.36" y="350.40" width="6.79" height="6.40" fill="#ad2636"/>
<rect x="841.70" y="328.00" width="5.69" height="25.10" fill="rgba(0,0,0,0.03)" stroke="#000" stroke-width="1.3"/>
<line x1="851.33" x2="851.33" y1="301.0" y2="304.6" stroke="#000" stroke-width="1.1"/>
<line x1="851.33" x2="851.33" y1="315.5" y2="325.1" stroke="#000" stroke-width="1.1"/>
<rect x="848.49" y="305.10" width="5.69" height="9.90" fill="rgba(0,0,0,0.03)" stroke="#000" stroke-width="1.3"/>
<line x1="858.12" x2="858.12" y1="304.6" y2="318.7" stroke="#ad2636" stroke-width="1.1"/>
<rect x="854.72" y="311.00" width="6.79" height="4.20" fill="#ad2636"/>
<line x1="864.9" x2="864.9" y1="305.5" y2="321.5" stroke="#ad2636" stroke-width="1.1"/>
<rect x="861.51" y="311.00" width="6.79" height="9.60" fill="#ad2636"/>
<line x1="871.69" x2="871.69" y1="312.3" y2="317.1" stroke="#000" stroke-width="1.1"/>
<line x1="871.69" x2="871.69" y1="321.1" y2="327.0" stroke="#000" stroke-width="1.1"/>
<rect x="868.85" y="317.60" width="5.69" height="3.00" fill="rgba(0,0,0,0.03)" stroke="#000" stroke-width="1.3"/>
</g></g>
<path d="M49.5 210.24 L51.5 210.03 L53.5 209.76 L55.5 209.49 L57.5 209.22 L59.5 208.95 L61.5 208.68 L63.5 208.41 L65.5 208.14 L67.5 207.88 L69.5 207.67 L71.5 207.49 L73.5 207.31 L75.5 207.13 L77.5 206.96 L79.5 206.78 L81.5 206.60 L83.5 206.42 L85.5 206.24 L87.5 206.07 L89.5 205.89 L91.5 205.71 L93.5 205.53 L95.5 205.35 L97.5 205.17 L99.5 204.99 L101.5 204.81 L103.5 204.62 L105.5 204.44 L107.5 204.23 L109.5 203.89 L111.5 203.44 L113.5 202.97 L115.5 202.51 L117.5 202.05 L119.5 201.59 L121.5 201.13 L123.5 200.70 L125.5 200.45 L127.5 200.33 L129.5 200.22 L131.5 200.12 L133.5 199.96 L135.5 199.63 L137.5 199.21 L139.5 198.78 L141.5 198.36 L143.5 197.93 L145.5 197.50 L147.5 197.08 L149.5 196.65 L151.5 196.22 L153.5 195.80 L155.5 195.40 L157.5 195.16 L159.5 195.05 L161.5 194.95 L163.5 194.86 L165.5 194.77 L167.5 194.66 L169.5 194.45 L171.5 194.08 L173.5 193.66 L175.5 193.24 L177.5 192.83 L179.5 192.41 L181.5 191.99 L183.5 191.57 L185.5 191.16 L187.5 190.74 L189.5 190.32 L191.5 189.94 L193.5 189.68 L195.5 189.50 L197.5 189.33 L199.5 189.16 L201.5 188.99 L203.5 188.81 L205.5 188.60 L207.5 188.24 L209.5 187.78 L211.5 187.31 L213.5 186.84 L215.5 186.37 L217.5 185.90 L219.5 185.43 L221.5 184.97 L223.5 184.50 L225.5 184.03 L227.5 183.62 L229.5 183.27 L231.5 182.93 L233.5 182.60 L235.5 182.27 L237.5 181.93 L239.5 181.60 L241.5 181.27 L243.5 180.94 L245.5 180.60 L247.5 180.27 L249.5 179.94 L251.5 179.61 L253.5 179.28 L255.5 178.95 L257.5 178.61 L259.5 178.29 L261.5 177.99 L263.5 177.72 L265.5 177.45 L267.5 177.19 L269.5 176.93 L271.5 176.66 L273.5 176.40 L275.5 176.15 L277.5 175.91 L279.5 175.68 L281.5 175.45 L283.5 175.22 L285.5 174.99 L287.5 174.76 L289.5 174.52 L291.5 174.28 L293.5 174.05 L295.5 173.81 L297.5 173.57 L299.5 173.33 L301.5 173.07 L303.5 172.71 L305.5 172.26 L307.5 171.80 L309.5 171.33 L311.5 170.87 L313.5 170.41 L315.5 169.94 L317.5 169.48 L319.5 169.02 L321.5 168.67 L323.5 168.54 L325.5 168.47 L327.5 168.41 L329.5 168.35 L331.5 168.21 L333.5 167.93 L335.5 167.62 L337.5 167.30 L339.5 166.99 L341.5 166.75 L343.5 166.53 L345.5 166.32 L347.5 166.11 L349.5 165.90 L351.5 165.69 L353.5 165.48 L355.5 165.27 L357.5 165.06 L359.5 164.83 L361.5 164.53 L363.5 164.19 L365.5 163.84 L367.5 163.49 L369.5 163.14 L371.5 162.79 L373.5 162.44 L375.5 162.10 L377.5 161.82 L379.5 161.56 L381.5 161.31 L383.5 161.06 L385.5 160.81 L387.5 160.56 L389.5 160.31 L391.5 160.07 L393.5 159.86 L395.5 159.66 L397.5 159.47 L399.5 159.28 L401.5 159.09 L403.5 158.90 L405.5 158.71 L407.5 158.51 L409.5 158.32 L411.5 158.13 L413.5 157.94 L415.5 157.74 L417.5 157.50 L419.5 157.24 L421.5 156.98 L423.5 156.72 L425.5 156.45 L427.5 156.19 L429.5 155.93 L431.5 155.68 L433.5 155.47 L435.5 155.29 L437.5 155.11 L439.5 154.93 L441.5 154.76 L443.5 154.58 L445.5 154.40 L447.5 154.22 L449.5 154.05 L451.5 153.89 L453.5 153.75 L455.5 153.60 L457.5 153.45 L459.5 153.31 L461.5 153.16 L463.5 153.02 L465.5 152.87 L467.5 152.73 L469.5 152.58 L471.5 152.45 L473.5 152.37 L475.5 152.32 L477.5 152.28 L479.5 152.23 L481.5 152.19 L483.5 152.14 L485.5 152.10 L487.5 152.06 L489.5 152.01 L491.5 151.96 L493.5 151.92 L495.5 151.87 L497.5 151.82 L499.5 151.77 L501.5 151.72 L503.5 151.67 L505.5 151.62 L507.5 151.58 L509.5 151.53 L511.5 151.48 L513.5 151.43 L515.5 151.38 L517.5 151.32 L519.5 151.17 L521.5 150.89 L523.5 150.59 L525.5 150.36 L527.5 150.30 L529.5 150.30 L531.5 150.30 L533.5 150.30 L535.5 150.30 L537.5 150.30 L539.5 150.30 L541.5 150.30 L543.5 150.30 L545.5 150.30 L547.5 150.30 L549.5 150.30 L551.5 150.30 L553.5 150.30 L555.5 150.37 L557.5 150.66 L559.5 151.11 L561.5 151.52 L563.5 151.69 L565.5 151.70 L567.5 151.70 L569.5 151.70 L571.5 151.63 L573.5 151.34 L575.5 150.89 L577.5 150.48 L579.5 150.31 L581.5 150.30 L583.5 150.30 L585.5 150.30 L587.5 150.30 L589.5 150.30 L591.5 150.30 L593.5 150.30 L595.5 150.30 L597.5 150.30 L599.5 150.30 L601.5 150.30 L603.5 150.30 L605.5 150.30 L607.5 150.30 L609.5 150.30 L611.5 150.30 L613.5 150.30 L615.5 150.30 L617.5 150.30 L619.5 150.30 L621.5 150.30 L623.5 150.30 L625.5 150.30 L627.5 150.30 L629.5 150.30 L631.5 150.34 L633.5 150.53 L635.5 150.83 L637.5 151.12 L639.5 151.38 L641.5 151.49 L643.5 151.50 L645.5 151.50 L647.5 151.50 L649.5 151.50 L651.5 151.50 L653.5 151.50 L655.5 151.50 L657.5 151.50 L659.5 151.50 L661.5 151.50 L663.5 151.50 L665.5 151.50 L667.5 151.50 L669.5 151.50 L671.5 151.50 L673.5 151.50 L675.5 151.50 L677.5 151.50 L679.5 151.50 L681.5 151.59 L683.5 151.92 L685.5 152.38 L687.5 152.79 L689.5 152.98 L691.5 153.00 L693.5 153.00 L695.5 153.00 L697.5 153.00 L699.5 153.00 L701.5 153.00 L703.5 153.00 L705.5 153.00 L707.5 153.00 L709.5 153.00 L711.5 153.00 L713.5 153.00 L715.5 153.00 L717.5 153.00 L719.5 153.00 L721.5 153.00 L723.5 153.00 L725.5 153.00 L727.5 153.00 L729.5 153.00 L731.5 153.00 L733.5 153.00 L735.5 153.00 L737.5 153.00 L739.5 153.00 L741.5 153.02 L743.5 153.20 L745.5 153.57 L747.5 153.96 L749.5 154.24 L751.5 154.30 L753.5 154.30 L755.5 154.30 L757.5 154.30 L759.5 154.30 L761.5 154.30 L763.5 154.30 L765.5 154.30 L767.5 154.30 L769.5 154.35 L771.5 154.59 L773.5 154.96 L775.5 155.30 L777.5 155.48 L779.5 155.50 L781.5 155.50 L783.5 155.50 L785.5 155.50 L787.5 155.50 L789.5 155.52 L791.5 155.68 L793.5 156.06 L795.5 156.46 L797.5 156.68 L799.5 156.70 L801.5 156.70 L803.5 156.70 L805.5 156.70 L807.5 156.70 L809.5 156.70 L811.5 156.70 L813.5 156.70 L815.5 156.70 L817.5 156.70 L819.5 156.70 L821.5 156.70 L823.5 156.73 L825.5 156.97 L827.5 157.44 L829.5 157.92 L831.5 158.31 L833.5 158.55 L835.5 158.75 L837.5 158.95 L839.5 159.17 L841.5 159.41 L843.5 159.66 L845.5 159.85 L847.5 159.90 L849.5 159.90 L851.5 159.90 L853.5 159.90 L855.5 159.91 L857.5 160.04 L859.5 160.29 L861.5 160.57 L863.5 160.82 L865.5 160.98 L867.5 161.00 L869.5 161.00 L871.5 161.00" fill="none" stroke="#b8303f" stroke-width="1.4" stroke-linejoin="round"/>
<path d="M49.5 103.59 L51.5 103.72 L53.5 103.89 L55.5 104.08 L57.5 104.29 L59.5 104.57 L61.5 104.94 L63.5 105.38 L65.5 105.85 L67.5 106.26 L69.5 106.59 L71.5 106.84 L73.5 107.04 L75.5 107.24 L77.5 107.42 L79.5 107.60 L81.5 107.76 L83.5 107.88 L85.5 107.93 L87.5 107.94 L89.5 107.91 L91.5 107.88 L93.5 107.84 L95.5 107.75 L97.5 107.56 L99.5 107.27 L101.5 106.92 L103.5 106.62 L105.5 106.40 L107.5 106.28 L109.5 106.22 L111.5 106.20 L113.5 106.20 L115.5 106.20 L117.5 106.20 L119.5 106.20 L121.5 106.20 L123.5 106.20 L125.5 106.20 L127.5 106.20 L129.5 106.20 L131.5 106.20 L133.5 106.20 L135.5 106.20 L137.5 106.20 L139.5 106.20 L141.5 106.20 L143.5 106.17 L145.5 106.10 L147.5 105.95 L149.5 105.78 L151.5 105.68 L153.5 105.74 L155.5 105.93 L157.5 106.16 L159.5 106.35 L161.5 106.44 L163.5 106.45 L165.5 106.44 L167.5 106.43 L169.5 106.44 L171.5 106.46 L173.5 106.51 L175.5 106.56 L177.5 106.58 L179.5 106.52 L181.5 106.33 L183.5 106.05 L185.5 105.78 L187.5 105.60 L189.5 105.52 L191.5 105.50 L193.5 105.50 L195.5 105.50 L197.5 105.50 L199.5 105.50 L201.5 105.50 L203.5 105.52 L205.5 105.59 L207.5 105.77 L209.5 106.07 L211.5 106.39 L213.5 106.59 L215.5 106.68 L217.5 106.70 L219.5 106.70 L221.5 106.70 L223.5 106.70 L225.5 106.70 L227.5 106.70 L229.5 106.70 L231.5 106.70 L233.5 106.70 L235.5 106.70 L237.5 106.70 L239.5 106.70 L241.5 106.70 L243.5 106.69 L245.5 106.64 L247.5 106.51 L249.5 106.26 L251.5 105.95 L253.5 105.67 L255.5 105.46 L257.5 105.32 L259.5 105.20 L261.5 105.08 L263.5 104.94 L265.5 104.76 L267.5 104.57 L269.5 104.43 L271.5 104.34 L273.5 104.31 L275.5 104.30 L277.5 104.30 L279.5 104.30 L281.5 104.30 L283.5 104.30 L285.5 104.28 L287.5 104.22 L289.5 104.05 L291.5 103.77 L293.5 103.44 L295.5 103.17 L297.5 103.00 L299.5 102.92 L301.5 102.86 L303.5 102.81 L305.5 102.77 L307.5 102.72 L309.5 102.67 L311.5 102.63 L313.5 102.58 L315.5 102.53 L317.5 102.47 L319.5 102.38 L321.5 102.20 L323.5 101.92 L325.5 101.56 L327.5 101.17 L329.5 100.77 L331.5 100.33 L333.5 99.88 L335.5 99.42 L337.5 98.95 L339.5 98.48 L341.5 98.02 L343.5 97.55 L345.5 97.09 L347.5 96.66 L349.5 96.25 L351.5 95.87 L353.5 95.51 L355.5 95.15 L357.5 94.79 L359.5 94.43 L361.5 94.07 L363.5 93.71 L365.5 93.40 L367.5 93.17 L369.5 93.05 L371.5 93.01 L373.5 93.00 L375.5 93.00 L377.5 93.00 L379.5 93.01 L381.5 93.08 L383.5 93.25 L385.5 93.57 L387.5 93.96 L389.5 94.30 L391.5 94.52 L393.5 94.62 L395.5 94.65 L397.5 94.68 L399.5 94.70 L401.5 94.72 L403.5 94.74 L405.5 94.77 L407.5 94.83 L409.5 94.96 L411.5 95.21 L413.5 95.50 L415.5 95.76 L417.5 95.92 L419.5 95.99 L421.5 96.04 L423.5 96.17 L425.5 96.43 L427.5 96.81 L429.5 97.24 L431.5 97.69 L433.5 98.13 L435.5 98.56 L437.5 98.97 L439.5 99.35 L441.5 99.71 L443.5 100.06 L445.5 100.42 L447.5 100.80 L449.5 101.27 L451.5 101.88 L453.5 102.65 L455.5 103.49 L457.5 104.37 L459.5 105.24 L461.5 106.11 L463.5 106.95 L465.5 107.76 L467.5 108.53 L469.5 109.29 L471.5 110.04 L473.5 110.79 L475.5 111.54 L477.5 112.31 L479.5 113.08 L481.5 113.85 L483.5 114.63 L485.5 115.40 L487.5 116.17 L489.5 116.91 L491.5 117.57 L493.5 118.12 L495.5 118.61 L497.5 119.09 L499.5 119.64 L501.5 120.27 L503.5 120.96 L505.5 121.68 L507.5 122.42 L509.5 123.22 L511.5 124.11 L513.5 125.12 L515.5 126.17 L517.5 127.21 L519.5 128.16 L521.5 129.02 L523.5 129.85 L525.5 130.72 L527.5 131.75 L529.5 132.92 L531.5 134.20 L533.5 135.51 L535.5 136.79 L537.5 137.99 L539.5 139.03 L541.5 139.92 L543.5 140.72 L545.5 141.49 L547.5 142.28 L549.5 143.13 L551.5 144.11 L553.5 145.24 L555.5 146.47 L557.5 147.71 L559.5 148.91 L561.5 150.01 L563.5 151.01 L565.5 151.96 L567.5 152.88 L569.5 153.81 L571.5 154.75 L573.5 155.72 L575.5 156.74 L577.5 157.80 L579.5 158.86 L581.5 159.93 L583.5 160.98 L585.5 162.00 L587.5 162.94 L589.5 163.82 L591.5 164.67 L593.5 165.53 L595.5 166.46 L597.5 167.48 L599.5 168.57 L601.5 169.70 L603.5 170.83 L605.5 171.92 L607.5 172.94 L609.5 173.86 L611.5 174.72 L613.5 175.60 L615.5 176.55 L617.5 177.59 L619.5 178.70 L621.5 179.83 L623.5 180.97 L625.5 182.12 L627.5 183.31 L629.5 184.53 L631.5 185.78 L633.5 187.04 L635.5 188.32 L637.5 189.63 L639.5 191.00 L641.5 192.47 L643.5 194.00 L645.5 195.51 L647.5 196.85 L649.5 197.91 L651.5 198.75 L653.5 199.50 L655.5 200.31 L657.5 201.26 L659.5 202.33 L661.5 203.46 L663.5 204.64 L665.5 205.92 L667.5 207.37 L669.5 208.97 L671.5 210.66 L673.5 212.37 L675.5 214.08 L677.5 215.79 L679.5 217.48 L681.5 219.12 L683.5 220.66 L685.5 222.12 L687.5 223.52 L689.5 224.88 L691.5 226.18 L693.5 227.44 L695.5 228.66 L697.5 229.89 L699.5 231.14 L701.5 232.42 L703.5 233.74 L705.5 235.06 L707.5 236.33 L709.5 237.49 L711.5 238.49 L713.5 239.36 L715.5 240.18 L717.5 240.99 L719.5 241.80 L721.5 242.60 L723.5 243.40 L725.5 244.17 L727.5 244.91 L729.5 245.63 L731.5 246.33 L733.5 247.03 L735.5 247.73 L737.5 248.44 L739.5 249.20 L741.5 250.08 L743.5 251.11 L745.5 252.25 L747.5 253.37 L749.5 254.38 L751.5 255.28 L753.5 256.13 L755.5 257.00 L757.5 257.96 L759.5 259.04 L761.5 260.23 L763.5 261.46 L765.5 262.71 L767.5 263.96 L769.5 265.18 L771.5 266.37 L773.5 267.52 L775.5 268.66 L777.5 269.78 L779.5 270.90 L781.5 271.99 L783.5 273.02 L785.5 273.98 L787.5 274.87 L789.5 275.75 L791.5 276.61 L793.5 277.47 L795.5 278.30 L797.5 279.08 L799.5 279.81 L801.5 280.51 L803.5 281.17 L805.5 281.78 L807.5 282.35 L809.5 282.89 L811.5 283.43 L813.5 284.00 L815.5 284.62 L817.5 285.32 L819.5 286.07 L821.5 286.84 L823.5 287.62 L825.5 288.37 L827.5 289.09 L829.5 289.77 L831.5 290.42 L833.5 291.07 L835.5 291.70 L837.5 292.30 L839.5 292.83 L841.5 293.29 L843.5 293.73 L845.5 294.16 L847.5 294.59 L849.5 295.04 L851.5 295.52 L853.5 296.05 L855.5 296.62 L857.5 297.19 L859.5 297.77 L861.5 298.34 L863.5 298.89 L865.5 299.41 L867.5 299.89 L869.5 300.31 L871.5 300.63" fill="none" stroke="#2a2a9c" stroke-width="1.6" stroke-linejoin="round"/>
<rect x="50" y="27" width="172" height="14" fill="#fff"/>
<rect x="50" y="41" width="105" height="14.5" fill="#fff"/>
<rect x="50" y="55.5" width="111.5" height="14.5" fill="#fff"/>
<rect x="50" y="70" width="111" height="16" fill="#fff"/>
<g stroke="#000" stroke-width="1" fill="none">
<line x1="54.5" x2="54.5" y1="28.8" y2="38.6"/><rect x="53.2" y="30.2" width="2.8" height="5.4" fill="#fff"/>
<line x1="59" x2="59" y1="33" y2="39.8"/><rect x="57" y="33.2" width="4.2" height="4.6" fill="#000"/>
<line x1="63" x2="63" y1="28.8" y2="39.8"/><rect x="61.6" y="30.4" width="2.8" height="7.2" fill="#fff"/>
</g>
<text x="69" y="39.0" font-family="'DejaVu Sans', Verdana, sans-serif" font-size="12.9" fill="#000" textLength="151" lengthAdjust="spacing">ADBE (Daily) 458.25</text>
<line x1="52.8" x2="64.8" y1="49.3" y2="49.3" stroke="#2a2a9c" stroke-width="2.2"/>
<text y="54.8" font-family="'DejaVu Sans Condensed', 'DejaVu Sans', Tahoma, sans-serif" font-size="12.9" fill="#1c1c99" stroke="#1c1c99" stroke-width="0.3"><tspan x="67.3" textLength="43.3" lengthAdjust="spacingAndGlyphs">MA(50)</tspan><tspan x="115.7" textLength="38.1" lengthAdjust="spacingAndGlyphs">469.25</tspan></text>
<line x1="52.8" x2="64.8" y1="64.3" y2="64.3" stroke="#b8303f" stroke-width="2.2"/>
<text y="69.4" font-family="'DejaVu Sans Condensed', 'DejaVu Sans', Tahoma, sans-serif" font-size="12.9" fill="#b8293d" stroke="#b8293d" stroke-width="0.3"><tspan x="67.3" textLength="49.8" lengthAdjust="spacingAndGlyphs">MA(200)</tspan><tspan x="122.2" textLength="38.1" lengthAdjust="spacingAndGlyphs">578.90</tspan></text>
<g fill="#9c9c9c" stroke="#555" stroke-width="1"><rect x="53.2" y="77" width="3.8" height="5.6"/><rect x="57" y="72.9" width="4" height="9.7"/><rect x="61" y="75.7" width="3.6" height="6.9"/></g>
<text y="83.6" font-family="'DejaVu Sans Condensed', 'DejaVu Sans', Tahoma, sans-serif" font-size="12.9" fill="#4c4c4c"><tspan x="67.3" textLength="43.5" lengthAdjust="spacingAndGlyphs">Volume</tspan><tspan x="114.3" textLength="47" lengthAdjust="spacingAndGlyphs">342,264</tspan></text>
<g stroke="#cfcfcf" shape-rendering="crispEdges">
<line x1="881.5" x2="883.5" y1="386.5" y2="386.5"/>
<line x1="881.5" x2="883.5" y1="380.5" y2="380.5"/>
<line x1="881.5" x2="884.5" y1="373.5" y2="373.5"/>
<line x1="881.5" x2="883.5" y1="367.5" y2="367.5"/>
<line x1="881.5" x2="883.5" y1="361.5" y2="361.5"/>
<line x1="881.5" x2="883.5" y1="354.5" y2="354.5"/>
<line x1="881.5" x2="883.5" y1="348.5" y2="348.5"/>
<line x1="881.5" x2="884.5" y1="342.5" y2="342.5"/>
<line x1="881.5" x2="883.5" y1="336.5" y2="336.5"/>
<line x1="881.5" x2="883.5" y1="331.5" y2="331.5"/>
<line x1="881.5" x2="883.5" y1="325.5" y2="325.5"/>
<line x1="881.5" x2="883.5" y1="319.5" y2="319.5"/>
<line x1="881.5" x2="884.5" y1="314.5" y2="314.5"/>
<line x1="881.5" x2="883.5" y1="308.5" y2="308.5"/>
<line x1="881.5" x2="883.5" y1="302.5" y2="302.5"/>
<line x1="881.5" x2="883.5" y1="297.5" y2="297.5"/>
<line x1="881.5" x2="883.5" y1="291.5" y2="291.5"/>
<line x1="881.5" x2="884.5" y1="285.5" y2="285.5"/>
<line x1="881.5" x2="883.5" y1="280.5" y2="280.5"/>
<line x1="881.5" x2="883.5" y1="274.5" y2="274.5"/>
<line x1="881.5" x2="883.5" y1="269.5" y2="269.5"/>
<line x1="881.5" x2="883.5" y1="264.5" y2="264.5"/>
<line x1="881.5" x2="884.5" y1="258.5" y2="258.5"/>
<line x1="881.5" x2="883.5" y1="253.5" y2="253.5"/>
<line x1="881.5" x2="883.5" y1="248.5" y2="248.5"/>
<line x1="881.5" x2="883.5" y1="242.5" y2="242.5"/>
<line x1="881.5" x2="883.5" y1="237.5" y2="237.5"/>
<line x1="881.5" x2="884.5" y1="232.5" y2="232.5"/>
<line x1="881.5" x2="883.5" y1="227.5" y2="227.5"/>
<line x1="881.5" x2="883.5" y1="222.5" y2="222.5"/>
<line x1="881.5" x2="883.5" y1="217.5" y2="217.5"/>
<line x1="881.5" x2="883.5" y1="211.5" y2="211.5"/>
<line x1="881.5" x2="884.5" y1="206.5" y2="206.5"/>
<line x1="881.5" x2="883.5" y1="201.5" y2="201.5"/>
<line x1="881.5" x2="883.5" y1="196.5" y2="196.5"/>
<line x1="881.5" x2="883.5" y1="192.5" y2="192.5"/>
<line x1="881.5" x2="883.5" y1="187.5" y2="187.5"/>
<line x1="881.5" x2="884.5" y1="182.5" y2="182.5"/>
<line x1="881.5" x2="883.5" y1="177.5" y2="177.5"/>
<line x1="881.5" x2="883.5" y1="173.5" y2="173.5"/>
<line x1="881.5" x2="883.5" y1="168.5" y2="168.5"/>
<line x1="881.5" x2="883.5" y1="164.5" y2="164.5"/>
<line x1="881.5" x2="884.5" y1="159.5" y2="159.5"/>
<line x1="881.5" x2="883.5" y1="155.5" y2="155.5"/>
<line x1="881.5" x2="883.5" y1="151.5" y2="151.5"/>
<line x1="881.5" x2="883.5" y1="146.5" y2="146.5"/>
<line x1="881.5" x2="883.5" y1="142.5" y2="142.5"/>
<line x1="881.5" x2="884.5" y1="138.5" y2="138.5"/>
<line x1="881.5" x2="883.5" y1="133.5" y2="133.5"/>
<line x1="881.5" x2="883.5" y1="129.5" y2="129.5"/>
<line x1="881.5" x2="883.5" y1="125.5" y2="125.5"/>
<line x1="881.5" x2="883.5" y1="120.5" y2="120.5"/>
<line x1="881.5" x2="884.5" y1="116.5" y2="116.5"/>
<line x1="881.5" x2="883.5" y1="112.5" y2="112.5"/>
<line x1="881.5" x2="883.5" y1="107.5" y2="107.5"/>
<line x1="881.5" x2="883.5" y1="103.5" y2="103.5"/>
<line x1="881.5" x2="883.5" y1="98.5" y2="98.5"/>
<line x1="881.5" x2="884.5" y1="94.5" y2="94.5"/>
<line x1="881.5" x2="883.5" y1="90.5" y2="90.5"/>
<line x1="881.5" x2="883.5" y1="86.5" y2="86.5"/>
<line x1="881.5" x2="883.5" y1="82.5" y2="82.5"/>
<line x1="881.5" x2="883.5" y1="78.5" y2="78.5"/>
<line x1="881.5" x2="884.5" y1="74.5" y2="74.5"/>
<line x1="881.5" x2="883.5" y1="70.5" y2="70.5"/>
<line x1="881.5" x2="883.5" y1="66.5" y2="66.5"/>
<line x1="881.5" x2="883.5" y1="62.5" y2="62.5"/>
<line x1="881.5" x2="883.5" y1="58.5" y2="58.5"/>
<line x1="881.5" x2="884.5" y1="54.5" y2="54.5"/>
<line x1="881.5" x2="883.5" y1="50.5" y2="50.5"/>
<line x1="881.5" x2="883.5" y1="46.5" y2="46.5"/>
<line x1="881.5" x2="883.5" y1="42.5" y2="42.5"/>
<line x1="881.5" x2="883.5" y1="38.5" y2="38.5"/>
<line x1="881.5" x2="884.5" y1="35.5" y2="35.5"/>
<line x1="881.5" x2="884.5" y1="5.5" y2="5.5"/>
<line x1="881.5" x2="884.0" y1="16.5" y2="16.5"/>
<line x1="881.5" x2="883.5" y1="10.5" y2="10.5"/>
</g>
<text x="885.4" y="376.6" font-size="13.3" letter-spacing="0.75" text-anchor="start" fill="#000">420</text>
<text x="885.4" y="345.4" font-size="13.3" letter-spacing="0.75" text-anchor="start" fill="#000">440</text>
<text x="885.4" y="288.7" font-size="13.3" letter-spacing="0.75" text-anchor="start" fill="#000">480</text>
<text x="885.4" y="261.6" font-size="13.3" letter-spacing="0.75" text-anchor="start" fill="#000">500</text>
<text x="885.4" y="235.4" font-size="13.3" letter-spacing="0.75" text-anchor="start" fill="#000">520</text>
<text x="885.4" y="209.6" font-size="13.3" letter-spacing="0.75" text-anchor="start" fill="#000">540</text>
<text x="885.4" y="185.3" font-size="13.3" letter-spacing="0.75" text-anchor="start" fill="#000">560</text>
<text x="885.4" y="141.0" font-size="13.3" letter-spacing="0.75" text-anchor="start" fill="#000">600</text>
<text x="885.4" y="119.3" font-size="13.3" letter-spacing="0.75" text-anchor="start" fill="#000">620</text>
<text x="885.4" y="97.1" font-size="13.3" letter-spacing="0.75" text-anchor="start" fill="#000">640</text>
<text x="885.4" y="77.0" font-size="13.3" letter-spacing="0.75" text-anchor="start" fill="#000">660</text>
<text x="885.4" y="57.0" font-size="13.3" letter-spacing="0.75" text-anchor="start" fill="#000">680</text>
<text x="885.4" y="38.0" font-size="13.3" letter-spacing="0.75" text-anchor="start" fill="#000">700</text>
<text x="888.3" y="8.3" font-size="12.4" letter-spacing="0.0" text-anchor="start" fill="#000">10</text>
<g stroke="#c6c6c6" shape-rendering="crispEdges">
<line x1="46.0" x2="49.5" y1="383.5" y2="383.5"/>
<line x1="46.0" x2="49.5" y1="364.5" y2="364.5"/>
<line x1="46.0" x2="49.5" y1="346.5" y2="346.5"/>
<line x1="46.0" x2="49.5" y1="327.5" y2="327.5"/>
<line x1="46.0" x2="49.5" y1="309.5" y2="309.5"/>
<line x1="46.0" x2="49.5" y1="290.5" y2="290.5"/>
</g>
<text x="46.9" y="387.6" font-size="13.3" letter-spacing="0.95" text-anchor="end" fill="#000">2.5M</text>
<text x="46.9" y="369.0" font-size="13.3" letter-spacing="0.95" text-anchor="end" fill="#000">5.0M</text>
<text x="46.9" y="350.3" font-size="13.3" letter-spacing="0.95" text-anchor="end" fill="#000">7.5M</text>
<text x="46.9" y="331.7" font-size="13.3" letter-spacing="0.95" text-anchor="end" fill="#000">10.0M</text>
<text x="46.9" y="313.1" font-size="13.3" letter-spacing="0.95" text-anchor="end" fill="#000">12.5M</text>
<text x="46.9" y="294.5" font-size="13.3" letter-spacing="0.95" text-anchor="end" fill="#000">15.0M</text>
<path d="M878 159.6L882.6 152.3H932.5V166.8H882.6Z" fill="#fff" stroke="#b8293d" stroke-width="1.4"/>
<text x="884.3" y="164.2" font-size="13.3" letter-spacing="0.75" fill="#000">578.90</text>
<path d="M878 299.2L882.6 291.9H932.5V306.4H882.6Z" fill="#fff" stroke="#2a2a9c" stroke-width="1.4"/>
<text x="884.3" y="303.8" font-size="13.3" letter-spacing="0.75" fill="#000">469.25</text>
<path d="M878 316.6L882.6 309.2H932.5V324.0H882.6Z" fill="#fff" stroke="#000" stroke-width="1.4"/>
<text x="884.3" y="321.2" font-size="14.2" letter-spacing="0.3" font-weight="bold" fill="#000">458.25</text>
<clipPath id="cv"><rect x="870" y="385" width="62.3" height="30"/></clipPath>
<g clip-path="url(#cv)">
<path d="M940 391.9H884L878 398.7L884 405.5H940" fill="#fff" stroke="#000" stroke-width="1.4"/>
<text x="884.3" y="403.3" font-size="13.3" letter-spacing="1.0" fill="#000">342264</text>
</g>
<g stroke="#d2d2d2" shape-rendering="crispEdges">
<line x1="50.46" x2="50.46" y1="402.5" y2="405.0"/>
<line x1="50.46" x2="50.46" y1="419.5" y2="421.5"/>
<line x1="57.25" x2="57.25" y1="402.5" y2="406.0"/>
<line x1="57.25" x2="57.25" y1="418.5" y2="421.5"/>
<line x1="64.04" x2="64.04" y1="402.5" y2="405.0"/>
<line x1="64.04" x2="64.04" y1="419.5" y2="421.5"/>
<line x1="70.82" x2="70.82" y1="402.5" y2="405.0"/>
<line x1="70.82" x2="70.82" y1="419.5" y2="421.5"/>
<line x1="77.61" x2="77.61" y1="402.5" y2="405.0"/>
<line x1="77.61" x2="77.61" y1="419.5" y2="421.5"/>
<line x1="84.4" x2="84.4" y1="402.5" y2="405.0"/>
<line x1="84.4" x2="84.4" y1="419.5" y2="421.5"/>
<line x1="91.19" x2="91.19" y1="402.5" y2="406.0"/>
<line x1="91.19" x2="91.19" y1="418.5" y2="421.5"/>
<line x1="97.97" x2="97.97" y1="402.5" y2="405.0"/>
<line x1="97.97" x2="97.97" y1="419.5" y2="421.5"/>
<line x1="104.76" x2="104.76" y1="402.5" y2="405.0"/>
<line x1="104.76" x2="104.76" y1="419.5" y2="421.5"/>
<line x1="111.55" x2="111.55" y1="402.5" y2="405.0"/>
<line x1="111.55" x2="111.55" y1="419.5" y2="421.5"/>
<line x1="118.33" x2="118.33" y1="402.5" y2="405.0"/>
<line x1="118.33" x2="118.33" y1="419.5" y2="421.5"/>
<line x1="125.12" x2="125.12" y1="402.5" y2="406.0"/>
<line x1="125.12" x2="125.12" y1="418.5" y2="421.5"/>
<line x1="131.91" x2="131.91" y1="402.5" y2="405.0"/>
<line x1="131.91" x2="131.91" y1="419.5" y2="421.5"/>
<line x1="138.69" x2="138.69" y1="402.5" y2="405.0"/>
<line x1="138.69" x2="138.69" y1="419.5" y2="421.5"/>
<line x1="145.48" x2="145.48" y1="402.5" y2="405.0"/>
<line x1="145.48" x2="145.48" y1="419.5" y2="421.5"/>
<line x1="152.27" x2="152.27" y1="402.5" y2="405.0"/>
<line x1="152.27" x2="152.27" y1="419.5" y2="421.5"/>
<line x1="159.06" x2="159.06" y1="402.5" y2="406.0"/>
<line x1="159.06" x2="159.06" y1="418.5" y2="421.5"/>
<line x1="165.84" x2="165.84" y1="402.5" y2="405.0"/>
<line x1="165.84" x2="165.84" y1="419.5" y2="421.5"/>
<line x1="172.63" x2="172.63" y1="402.5" y2="405.0"/>
<line x1="172.63" x2="172.63" y1="419.5" y2="421.5"/>
<line x1="179.42" x2="179.42" y1="402.5" y2="405.0"/>
<line x1="179.42" x2="179.42" y1="419.5" y2="421.5"/>
<line x1="186.2" x2="186.2" y1="402.5" y2="405.0"/>
<line x1="186.2" x2="186.2" y1="419.5" y2="421.5"/>
<line x1="192.99" x2="192.99" y1="402.5" y2="406.0"/>
<line x1="192.99" x2="192.99" y1="418.5" y2="421.5"/>
<line x1="199.78" x2="199.78" y1="402.5" y2="405.0"/>
<line x1="199.78" x2="199.78" y1="419.5" y2="421.5"/>
<line x1="206.56" x2="206.56" y1="402.5" y2="405.0"/>
<line x1="206.56" x2="206.56" y1="419.5" y2="421.5"/>
<line x1="213.35" x2="213.35" y1="402.5" y2="405.0"/>
<line x1="213.35" x2="213.35" y1="419.5" y2="421.5"/>
<line x1="220.14" x2="220.14" y1="402.5" y2="405.0"/>
<line x1="220.14" x2="220.14" y1="419.5" y2="421.5"/>
<line x1="226.93" x2="226.93" y1="402.5" y2="406.0"/>
<line x1="226.93" x2="226.93" y1="418.5" y2="421.5"/>
<line x1="233.71" x2="233.71" y1="402.5" y2="405.0"/>
<line x1="233.71" x2="233.71" y1="419.5" y2="421.5"/>
<line x1="240.5" x2="240.5" y1="402.5" y2="405.0"/>
<line x1="240.5" x2="240.5" y1="419.5" y2="421.5"/>
<line x1="247.29" x2="247.29" y1="402.5" y2="405.0"/>
<line x1="247.29" x2="247.29" y1="419.5" y2="421.5"/>
<line x1="254.07" x2="254.07" y1="402.5" y2="405.0"/>
<line x1="254.07" x2="254.07" y1="419.5" y2="421.5"/>
<line x1="260.86" x2="260.86" y1="402.5" y2="406.0"/>
<line x1="260.86" x2="260.86" y1="418.5" y2="421.5"/>
<line x1="267.65" x2="267.65" y1="402.5" y2="405.0"/>
<line x1="267.65" x2="267.65" y1="419.5" y2="421.5"/>
<line x1="274.43" x2="274.43" y1="402.5" y2="405.0"/>
<line x1="274.43" x2="274.43" y1="419.5" y2="421.5"/>
<line x1="281.22" x2="281.22" y1="402.5" y2="405.0"/>
<line x1="281.22" x2="281.22" y1="419.5" y2="421.5"/>
<line x1="288.01" x2="288.01" y1="402.5" y2="406.0"/>
<line x1="288.01" x2="288.01" y1="418.5" y2="421.5"/>
<line x1="294.79" x2="294.79" y1="402.5" y2="405.0"/>
<line x1="294.79" x2="294.79" y1="419.5" y2="421.5"/>
<line x1="301.58" x2="301.58" y1="402.5" y2="405.0"/>
<line x1="301.58" x2="301.58" y1="419.5" y2="421.5"/>
<line x1="308.37" x2="308.37" y1="402.5" y2="405.0"/>
<line x1="308.37" x2="308.37" y1="419.5" y2="421.5"/>
<line x1="315.16" x2="315.16" y1="402.5" y2="405.0"/>
<line x1="315.16" x2="315.16" y1="419.5" y2="421.5"/>
<line x1="321.94" x2="321.94" y1="402.5" y2="406.0"/>
<line x1="321.94" x2="321.94" y1="418.5" y2="421.5"/>
<line x1="328.73" x2="328.73" y1="402.5" y2="405.0"/>
<line x1="328.73" x2="328.73" y1="419.5" y2="421.5"/>
<line x1="335.52" x2="335.52" y1="402.5" y2="405.0"/>
<line x1="335.52" x2="335.52" y1="419.5" y2="421.5"/>
<line x1="342.3" x2="342.3" y1="402.5" y2="405.0"/>
<line x1="342.3" x2="342.3" y1="419.5" y2="421.5"/>
<line x1="349.09" x2="349.09" y1="402.5" y2="405.0"/>
<line x1="349.09" x2="349.09" y1="419.5" y2="421.5"/>
<line x1="355.88" x2="355.88" y1="402.5" y2="406.0"/>
<line x1="355.88" x2="355.88" y1="418.5" y2="421.5"/>
<line x1="362.67" x2="362.67" y1="402.5" y2="405.0"/>
<line x1="362.67" x2="362.67" y1="419.5" y2="421.5"/>
<line x1="369.45" x2="369.45" y1="402.5" y2="405.0"/>
<line x1="369.45" x2="369.45" y1="419.5" y2="421.5"/>
<line x1="376.24" x2="376.24" y1="402.5" y2="405.0"/>
<line x1="376.24" x2="376.24" y1="419.5" y2="421.5"/>
<line x1="383.03" x2="383.03" y1="402.5" y2="405.0"/>
<line x1="383.03" x2="383.03" y1="419.5" y2="421.5"/>
<line x1="389.81" x2="389.81" y1="402.5" y2="406.0"/>
<line x1="389.81" x2="389.81" y1="418.5" y2="421.5"/>
<line x1="396.6" x2="396.6" y1="402.5" y2="405.0"/>
<line x1="396.6" x2="396.6" y1="419.5" y2="421.5"/>
<line x1="403.39" x2="403.39" y1="402.5" y2="405.0"/>
<line x1="403.39" x2="403.39" y1="419.5" y2="421.5"/>
<line x1="410.17" x2="410.17" y1="402.5" y2="405.0"/>
<line x1="410.17" x2="410.17" y1="419.5" y2="421.5"/>
<line x1="416.96" x2="416.96" y1="402.5" y2="406.0"/>
<line x1="416.96" x2="416.96" y1="418.5" y2="421.5"/>
<line x1="423.75" x2="423.75" y1="402.5" y2="405.0"/>
<line x1="423.75" x2="423.75" y1="419.5" y2="421.5"/>
<line x1="430.53" x2="430.53" y1="402.5" y2="405.0"/>
<line x1="430.53" x2="430.53" y1="419.5" y2="421.5"/>
<line x1="437.32" x2="437.32" y1="402.5" y2="405.0"/>
<line x1="437.32" x2="437.32" y1="419.5" y2="421.5"/>
<line x1="444.11" x2="444.11" y1="402.5" y2="405.0"/>
<line x1="444.11" x2="444.11" y1="419.5" y2="421.5"/>
<line x1="450.9" x2="450.9" y1="402.5" y2="406.0"/>
<line x1="450.9" x2="450.9" y1="418.5" y2="421.5"/>
<line x1="457.68" x2="457.68" y1="402.5" y2="405.0"/>
<line x1="457.68" x2="457.68" y1="419.5" y2="421.5"/>
<line x1="464.47" x2="464.47" y1="402.5" y2="405.0"/>
<line x1="464.47" x2="464.47" y1="419.5" y2="421.5"/>
<line x1="471.26" x2="471.26" y1="402.5" y2="405.0"/>
<line x1="471.26" x2="471.26" y1="419.5" y2="421.5"/>
<line x1="478.04" x2="478.04" y1="402.5" y2="405.0"/>
<line x1="478.04" x2="478.04" y1="419.5" y2="421.5"/>
<line x1="484.83" x2="484.83" y1="402.5" y2="406.0"/>
<line x1="484.83" x2="484.83" y1="418.5" y2="421.5"/>
<line x1="491.62" x2="491.62" y1="402.5" y2="405.0"/>
<line x1="491.62" x2="491.62" y1="419.5" y2="421.5"/>
<line x1="498.4" x2="498.4" y1="402.5" y2="405.0"/>
<line x1="498.4" x2="498.4" y1="419.5" y2="421.5"/>
<line x1="505.19" x2="505.19" y1="402.5" y2="405.0"/>
<line x1="505.19" x2="505.19" y1="419.5" y2="421.5"/>
<line x1="511.98" x2="511.98" y1="402.5" y2="405.0"/>
<line x1="511.98" x2="511.98" y1="419.5" y2="421.5"/>
<line x1="518.77" x2="518.77" y1="402.5" y2="406.0"/>
<line x1="518.77" x2="518.77" y1="418.5" y2="421.5"/>
<line x1="525.55" x2="525.55" y1="402.5" y2="405.0"/>
<line x1="525.55" x2="525.55" y1="419.5" y2="421.5"/>
<line x1="532.34" x2="532.34" y1="402.5" y2="405.0"/>
<line x1="532.34" x2="532.34" y1="419.5" y2="421.5"/>
<line x1="539.13" x2="539.13" y1="402.5" y2="405.0"/>
<line x1="539.13" x2="539.13" y1="419.5" y2="421.5"/>
<line x1="545.91" x2="545.91" y1="402.5" y2="406.0"/>
<line x1="545.91" x2="545.91" y1="418.5" y2="421.5"/>
<line x1="552.7" x2="552.7" y1="402.5" y2="405.0"/>
<line x1="552.7" x2="552.7" y1="419.5" y2="421.5"/>
<line x1="559.49" x2="559.49" y1="402.5" y2="405.0"/>
<line x1="559.49" x2="559.49" y1="419.5" y2="421.5"/>
<line x1="566.27" x2="566.27" y1="402.5" y2="405.0"/>
<line x1="566.27" x2="566.27" y1="419.5" y2="421.5"/>
<line x1="573.06" x2="573.06" y1="402.5" y2="405.0"/>
<line x1="573.06" x2="573.06" y1="419.5" y2="421.5"/>
<line x1="579.85" x2="579.85" y1="402.5" y2="406.0"/>
<line x1="579.85" x2="579.85" y1="418.5" y2="421.5"/>
<line x1="586.64" x2="586.64" y1="402.5" y2="405.0"/>
<line x1="586.64" x2="586.64" y1="419.5" y2="421.5"/>
<line x1="593.42" x2="593.42" y1="402.5" y2="405.0"/>
<line x1="593.42" x2="593.42" y1="419.5" y2="421.5"/>
<line x1="600.21" x2="600.21" y1="402.5" y2="405.0"/>
<line x1="600.21" x2="600.21" y1="419.5" y2="421.5"/>
<line x1="607.0" x2="607.0" y1="402.5" y2="405.0"/>
<line x1="607.0" x2="607.0" y1="419.5" y2="421.5"/>
<line x1="613.78" x2="613.78" y1="402.5" y2="406.0"/>
<line x1="613.78" x2="613.78" y1="418.5" y2="421.5"/>
<line x1="620.57" x2="620.57" y1="402.5" y2="405.0"/>
<line x1="620.57" x2="620.57" y1="419.5" y2="421.5"/>
<line x1="627.36" x2="627.36" y1="402.5" y2="405.0"/>
<line x1="627.36" x2="627.36" y1="419.5" y2="421.5"/>
<line x1="634.14" x2="634.14" y1="402.5" y2="405.0"/>
<line x1="634.14" x2="634.14" y1="419.5" y2="421.5"/>
<line x1="640.93" x2="640.93" y1="402.5" y2="405.0"/>
<line x1="640.93" x2="640.93" y1="419.5" y2="421.5"/>
<line x1="647.72" x2="647.72" y1="402.5" y2="406.0"/>
<line x1="647.72" x2="647.72" y1="418.5" y2="421.5"/>
<line x1="654.51" x2="654.51" y1="402.5" y2="405.0"/>
<line x1="654.51" x2="654.51" y1="419.5" y2="421.5"/>
<line x1="661.29" x2="661.29" y1="402.5" y2="405.0"/>
<line x1="661.29" x2="661.29" y1="419.5" y2="421.5"/>
<line x1="668.08" x2="668.08" y1="402.5" y2="405.0"/>
<line x1="668.08" x2="668.08" y1="419.5" y2="421.5"/>
<line x1="674.87" x2="674.87" y1="402.5" y2="405.0"/>
<line x1="674.87" x2="674.87" y1="419.5" y2="421.5"/>
<line x1="681.65" x2="681.65" y1="402.5" y2="406.0"/>
<line x1="681.65" x2="681.65" y1="418.5" y2="421.5"/>
<line x1="688.44" x2="688.44" y1="402.5" y2="405.0"/>
<line x1="688.44" x2="688.44" y1="419.5" y2="421.5"/>
<line x1="695.23" x2="695.23" y1="402.5" y2="405.0"/>
<line x1="695.23" x2="695.23" y1="419.5" y2="421.5"/>
<line x1="702.01" x2="702.01" y1="402.5" y2="405.0"/>
<line x1="702.01" x2="702.01" y1="419.5" y2="421.5"/>
<line x1="708.8" x2="708.8" y1="402.5" y2="406.0"/>
<line x1="708.8" x2="708.8" y1="418.5" y2="421.5"/>
<line x1="715.59" x2="715.59" y1="402.5" y2="405.0"/>
<line x1="715.59" x2="715.59" y1="419.5" y2="421.5"/>
<line x1="722.38" x2="722.38" y1="402.5" y2="405.0"/>
<line x1="722.38" x2="722.38" y1="419.5" y2="421.5"/>
<line x1="729.16" x2="729.16" y1="402.5" y2="405.0"/>
<line x1="729.16" x2="729.16" y1="419.5" y2="421.5"/>
<line x1="735.95" x2="735.95" y1="402.5" y2="405.0"/>
<line x1="735.95" x2="735.95" y1="419.5" y2="421.5"/>
<line x1="742.74" x2="742.74" y1="402.5" y2="406.0"/>
<line x1="742.74" x2="742.74" y1="418.5" y2="421.5"/>
<line x1="749.52" x2="749.52" y1="402.5" y2="405.0"/>
<line x1="749.52" x2="749.52" y1="419.5" y2="421.5"/>
<line x1="756.31" x2="756.31" y1="402.5" y2="405.0"/>
<line x1="756.31" x2="756.31" y1="419.5" y2="421.5"/>
<line x1="763.1" x2="763.1" y1="402.5" y2="405.0"/>
<line x1="763.1" x2="763.1" y1="419.5" y2="421.5"/>
<line x1="769.88" x2="769.88" y1="402.5" y2="405.0"/>
<line x1="769.88" x2="769.88" y1="419.5" y2="421.5"/>
<line x1="776.67" x2="776.67" y1="402.5" y2="406.0"/>
<line x1="776.67" x2="776.67" y1="418.5" y2="421.5"/>
<line x1="783.46" x2="783.46" y1="402.5" y2="405.0"/>
<line x1="783.46" x2="783.46" y1="419.5" y2="421.5"/>
<line x1="790.25" x2="790.25" y1="402.5" y2="405.0"/>
<line x1="790.25" x2="790.25" y1="419.5" y2="421.5"/>
<line x1="797.03" x2="797.03" y1="402.5" y2="405.0"/>
<line x1="797.03" x2="797.03" y1="419.5" y2="421.5"/>
<line x1="803.82" x2="803.82" y1="402.5" y2="405.0"/>
<line x1="803.82" x2="803.82" y1="419.5" y2="421.5"/>
<line x1="810.61" x2="810.61" y1="402.5" y2="406.0"/>
<line x1="810.61" x2="810.61" y1="418.5" y2="421.5"/>
<line x1="817.39" x2="817.39" y1="402.5" y2="405.0"/>
<line x1="817.39" x2="817.39" y1="419.5" y2="421.5"/>
<line x1="824.18" x2="824.18" y1="402.5" y2="405.0"/>
<line x1="824.18" x2="824.18" y1="419.5" y2="421.5"/>
<line x1="830.97" x2="830.97" y1="402.5" y2="405.0"/>
<line x1="830.97" x2="830.97" y1="419.5" y2="421.5"/>
<line x1="837.75" x2="837.75" y1="402.5" y2="405.0"/>
<line x1="837.75" x2="837.75" y1="419.5" y2="421.5"/>
<line x1="844.54" x2="844.54" y1="402.5" y2="406.0"/>
<line x1="844.54" x2="844.54" y1="418.5" y2="421.5"/>
<line x1="851.33" x2="851.33" y1="402.5" y2="405.0"/>
<line x1="851.33" x2="851.33" y1="419.5" y2="421.5"/>
<line x1="858.12" x2="858.12" y1="402.5" y2="405.0"/>
<line x1="858.12" x2="858.12" y1="419.5" y2="421.5"/>
<line x1="864.9" x2="864.9" y1="402.5" y2="405.0"/>
<line x1="864.9" x2="864.9" y1="419.5" y2="421.5"/>
<line x1="871.69" x2="871.69" y1="402.5" y2="405.0"/>
<line x1="871.69" x2="871.69" y1="419.5" y2="421.5"/>
</g>
<text x="57.0" y="416.4" font-size="13.3" letter-spacing="0.75" text-anchor="middle" fill="#000">11</text>
<text x="90.9" y="416.4" font-size="13.3" letter-spacing="0.75" text-anchor="middle" fill="#000">18</text>
<text x="124.8" y="416.4" font-size="13.3" letter-spacing="0.75" text-anchor="middle" fill="#000">25</text>
<text x="159.4" y="416.4" font-size="14" font-weight="bold" stroke="#000" stroke-width="0.25" letter-spacing="0.4" text-anchor="middle" fill="#000">Nov</text>
<text x="192.7" y="416.4" font-size="13.3" letter-spacing="0.75" text-anchor="middle" fill="#000">8</text>
<text x="226.6" y="416.4" font-size="13.3" letter-spacing="0.75" text-anchor="middle" fill="#000">15</text>
<text x="260.6" y="416.4" font-size="13.3" letter-spacing="0.75" text-anchor="middle" fill="#000">22</text>
<text x="301.9" y="416.4" font-size="14" font-weight="bold" stroke="#000" stroke-width="0.25" letter-spacing="0.4" text-anchor="middle" fill="#000">Dec</text>
<text x="321.6" y="416.4" font-size="13.3" letter-spacing="0.75" text-anchor="middle" fill="#000">6</text>
<text x="355.6" y="416.4" font-size="13.3" letter-spacing="0.75" text-anchor="middle" fill="#000">13</text>
<text x="389.5" y="416.4" font-size="13.3" letter-spacing="0.75" text-anchor="middle" fill="#000">20</text>
<text x="416.7" y="416.4" font-size="13.3" letter-spacing="0.75" text-anchor="middle" fill="#000">27</text>
<text x="451.2" y="416.4" font-size="14" font-weight="bold" stroke="#000" stroke-width="0.25" letter-spacing="0.4" text-anchor="middle" fill="#000">2022</text>
<text x="484.5" y="416.4" font-size="13.3" letter-spacing="0.75" text-anchor="middle" fill="#000">10</text>
<text x="518.5" y="416.4" font-size="13.3" letter-spacing="0.75" text-anchor="middle" fill="#000">18</text>
<text x="545.6" y="416.4" font-size="13.3" letter-spacing="0.75" text-anchor="middle" fill="#000">24</text>
<text x="586.9" y="416.4" font-size="14" font-weight="bold" stroke="#000" stroke-width="0.25" letter-spacing="0.4" text-anchor="middle" fill="#000">Feb</text>
<text x="613.5" y="416.4" font-size="13.3" letter-spacing="0.75" text-anchor="middle" fill="#000">7</text>
<text x="647.4" y="416.4" font-size="13.3" letter-spacing="0.75" text-anchor="middle" fill="#000">14</text>
<text x="681.4" y="416.4" font-size="13.3" letter-spacing="0.75" text-anchor="middle" fill="#000">22</text>
<text x="715.9" y="416.4" font-size="14" font-weight="bold" stroke="#000" stroke-width="0.25" letter-spacing="0.4" text-anchor="middle" fill="#000">Mar</text>
<text x="742.4" y="416.4" font-size="13.3" letter-spacing="0.75" text-anchor="middle" fill="#000">7</text>
<text x="776.4" y="416.4" font-size="13.3" letter-spacing="0.75" text-anchor="middle" fill="#000">14</text>
<text x="810.3" y="416.4" font-size="13.3" letter-spacing="0.75" text-anchor="middle" fill="#000">21</text>
<text x="844.2" y="416.4" font-size="13.3" letter-spacing="0.75" text-anchor="middle" fill="#000">28</text>
<text x="873.1" y="416.4" font-size="14" font-weight="bold" stroke="#000" stroke-width="0.25" letter-spacing="0.9" text-anchor="middle" fill="#000">Apr</text>
<line x1="52.8" x2="64.5" y1="429.6" y2="429.6" stroke="#000" stroke-width="1.8"/>
<text x="70" y="435.2" font-family="'DejaVu Sans', Verdana, sans-serif" font-size="12.9" fill="#000" textLength="113" lengthAdjust="spacing">MACD(12,26,9)</text>
<text x="190.5" y="435.2" font-family="'DejaVu Sans', Verdana, sans-serif" font-size="12.9" fill="#000" textLength="54.5" lengthAdjust="spacing">-2.111,</text>
<text x="251" y="435.2" font-family="'DejaVu Sans', Verdana, sans-serif" font-size="12.9" fill="#e03030" textLength="54.5" lengthAdjust="spacing">-7.777,</text>
<text x="314" y="435.2" font-family="'DejaVu Sans', Verdana, sans-serif" font-size="12.9" fill="#5b9bd5" textLength="41" lengthAdjust="spacing">4.666</text>
</svg></body></html>
